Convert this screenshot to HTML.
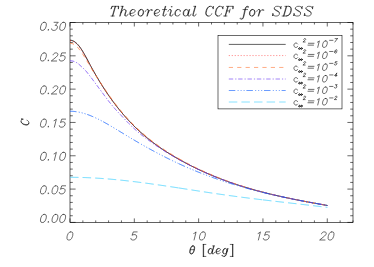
<!DOCTYPE html>
<html><head><meta charset="utf-8"><title>Theoretical CCF for SDSS</title>
<style>html,body{margin:0;padding:0;background:#fff;font-family:"Liberation Sans",sans-serif;}svg{display:block}</style>
</head><body>
<svg width="374" height="267" viewBox="0 0 374 267"><g fill="none" stroke="#000" stroke-width="0.62">
<rect x="70.00" y="22.50" width="283.00" height="199.90"/>
<path d="M70.00 222.40V218.40 M70.00 22.50V26.50 M82.86 222.40V220.40 M82.86 22.50V24.50 M95.73 222.40V220.40 M95.73 22.50V24.50 M108.59 222.40V220.40 M108.59 22.50V24.50 M121.45 222.40V220.40 M121.45 22.50V24.50 M134.32 222.40V218.40 M134.32 22.50V26.50 M147.18 222.40V220.40 M147.18 22.50V24.50 M160.05 222.40V220.40 M160.05 22.50V24.50 M172.91 222.40V220.40 M172.91 22.50V24.50 M185.77 222.40V220.40 M185.77 22.50V24.50 M198.64 222.40V218.40 M198.64 22.50V26.50 M211.50 222.40V220.40 M211.50 22.50V24.50 M224.36 222.40V220.40 M224.36 22.50V24.50 M237.23 222.40V220.40 M237.23 22.50V24.50 M250.09 222.40V220.40 M250.09 22.50V24.50 M262.95 222.40V218.40 M262.95 22.50V26.50 M275.82 222.40V220.40 M275.82 22.50V24.50 M288.68 222.40V220.40 M288.68 22.50V24.50 M301.55 222.40V220.40 M301.55 22.50V24.50 M314.41 222.40V220.40 M314.41 22.50V24.50 M327.27 222.40V218.40 M327.27 22.50V26.50 M340.14 222.40V220.40 M340.14 22.50V24.50 M353.00 222.40V220.40 M353.00 22.50V24.50 M70.00 222.40H75.60 M353.00 222.40H347.40 M70.00 215.74H72.80 M353.00 215.74H350.20 M70.00 209.07H72.80 M353.00 209.07H350.20 M70.00 202.41H72.80 M353.00 202.41H350.20 M70.00 195.75H72.80 M353.00 195.75H350.20 M70.00 189.08H75.60 M353.00 189.08H347.40 M70.00 182.42H72.80 M353.00 182.42H350.20 M70.00 175.76H72.80 M353.00 175.76H350.20 M70.00 169.09H72.80 M353.00 169.09H350.20 M70.00 162.43H72.80 M353.00 162.43H350.20 M70.00 155.77H75.60 M353.00 155.77H347.40 M70.00 149.10H72.80 M353.00 149.10H350.20 M70.00 142.44H72.80 M353.00 142.44H350.20 M70.00 135.78H72.80 M353.00 135.78H350.20 M70.00 129.11H72.80 M353.00 129.11H350.20 M70.00 122.45H75.60 M353.00 122.45H347.40 M70.00 115.79H72.80 M353.00 115.79H350.20 M70.00 109.12H72.80 M353.00 109.12H350.20 M70.00 102.46H72.80 M353.00 102.46H350.20 M70.00 95.80H72.80 M353.00 95.80H350.20 M70.00 89.13H75.60 M353.00 89.13H347.40 M70.00 82.47H72.80 M353.00 82.47H350.20 M70.00 75.81H72.80 M353.00 75.81H350.20 M70.00 69.14H72.80 M353.00 69.14H350.20 M70.00 62.48H72.80 M353.00 62.48H350.20 M70.00 55.82H75.60 M353.00 55.82H347.40 M70.00 49.15H72.80 M353.00 49.15H350.20 M70.00 42.49H72.80 M353.00 42.49H350.20 M70.00 35.83H72.80 M353.00 35.83H350.20 M70.00 29.16H72.80 M353.00 29.16H350.20 M70.00 22.50H75.60 M353.00 22.50H347.40" stroke-width="0.6"/>
</g>
<g fill="none" stroke-linejoin="round">
<path d="M70.00 40.22 L70.50 40.24 L71.00 40.29 L71.50 40.39 L72.00 40.51 L72.50 40.68 L73.00 40.88 L73.50 41.12 L74.00 41.39 L74.50 41.70 L75.00 42.04 L75.50 42.42 L76.00 42.83 L76.50 43.27 L77.00 43.75 L77.50 44.26 L78.00 44.80 L78.50 45.37 L79.00 45.98 L79.50 46.61 L80.00 47.28 L80.50 47.98 L81.00 48.70 L81.50 49.45 L82.00 50.23 L82.50 51.03 L83.00 51.85 L83.50 52.69 L84.00 53.55 L84.50 54.43 L85.00 55.32 L85.50 56.22 L86.00 57.14 L86.50 58.07 L87.00 59.00 L87.50 59.94 L88.00 60.88 L88.50 61.82 L89.00 62.77 L89.50 63.71 L90.00 64.65 L90.50 65.58 L91.00 66.51 L91.50 67.43 L92.00 68.34 L92.50 69.25 L93.00 70.15 L93.50 71.04 L94.00 71.93 L94.50 72.81 L95.00 73.69 L95.50 74.56 L96.00 75.42 L96.50 76.28 L97.00 77.14 L97.50 77.98 L98.00 78.82 L98.50 79.66 L99.00 80.49 L99.50 81.31 L100.00 82.13 L100.50 82.94 L101.00 83.75 L101.50 84.55 L102.00 85.34 L102.50 86.13 L103.00 86.92 L103.50 87.70 L104.00 88.47 L104.50 89.24 L105.00 90.00 L105.50 90.76 L106.00 91.51 L106.50 92.25 L107.00 93.00 L107.50 93.73 L108.00 94.46 L108.50 95.19 L109.00 95.91 L109.50 96.62 L110.00 97.33 L110.50 98.04 L111.00 98.74 L111.50 99.43 L112.00 100.12 L112.50 100.81 L113.00 101.49 L113.50 102.16 L114.00 102.83 L114.50 103.50 L115.00 104.16 L115.50 104.81 L116.00 105.47 L116.50 106.11 L117.00 106.75 L117.50 107.39 L118.00 108.02 L118.50 108.65 L119.00 109.27 L119.50 109.89 L120.00 110.51 L120.50 111.12 L121.00 111.72 L121.50 112.32 L122.00 112.92 L122.50 113.51 L123.00 114.10 L123.50 114.68 L124.00 115.26 L124.50 115.84 L125.00 116.41 L125.50 116.97 L126.00 117.54 L126.50 118.10 L127.00 118.65 L127.50 119.20 L128.00 119.75 L128.50 120.29 L129.00 120.82 L129.50 121.36 L130.00 121.89 L130.50 122.41 L131.00 122.94 L131.50 123.46 L132.00 123.97 L132.50 124.48 L133.00 124.99 L133.50 125.49 L134.00 125.99 L134.50 126.49 L135.00 126.98 L135.50 127.47 L136.00 127.95 L136.50 128.43 L137.00 128.91 L137.50 129.38 L138.00 129.86 L138.50 130.32 L139.00 130.79 L139.50 131.25 L140.00 131.70 L140.50 132.16 L141.00 132.61 L141.50 133.06 L142.00 133.50 L142.50 133.94 L143.00 134.38 L143.50 134.81 L144.00 135.24 L144.50 135.67 L145.00 136.10 L145.50 136.52 L146.00 136.94 L146.50 137.35 L147.00 137.77 L147.50 138.18 L148.00 138.58 L148.50 138.99 L149.00 139.39 L149.50 139.79 L150.00 140.18 L150.50 140.58 L151.00 140.97 L151.50 141.36 L152.00 141.74 L152.50 142.12 L153.00 142.50 L153.50 142.88 L154.00 143.25 L154.50 143.63 L155.00 144.00 L155.50 144.36 L156.00 144.73 L156.50 145.09 L157.00 145.45 L157.50 145.81 L158.00 146.16 L158.50 146.51 L159.00 146.86 L159.50 147.21 L160.00 147.56 L160.50 147.90 L161.00 148.24 L161.50 148.58 L162.00 148.92 L162.50 149.25 L163.00 149.59 L163.50 149.92 L164.00 150.25 L164.50 150.58 L165.00 150.90 L165.50 151.22 L166.00 151.55 L166.50 151.87 L167.00 152.18 L167.50 152.50 L168.00 152.81 L168.50 153.13 L169.00 153.44 L169.50 153.75 L170.00 154.05 L170.50 154.36 L171.00 154.66 L171.50 154.97 L172.00 155.27 L172.50 155.57 L173.00 155.86 L173.50 156.16 L174.00 156.46 L174.50 156.75 L175.00 157.04 L175.50 157.33 L176.00 157.62 L176.50 157.91 L177.00 158.20 L177.50 158.49 L178.00 158.77 L178.50 159.05 L179.00 159.34 L179.50 159.62 L180.00 159.90 L180.50 160.18 L181.00 160.45 L181.50 160.73 L182.00 161.01 L182.50 161.28 L183.00 161.55 L183.50 161.82 L184.00 162.09 L184.50 162.36 L185.00 162.63 L185.50 162.90 L186.00 163.16 L186.50 163.43 L187.00 163.69 L187.50 163.95 L188.00 164.21 L188.50 164.47 L189.00 164.73 L189.50 164.98 L190.00 165.24 L190.50 165.50 L191.00 165.75 L191.50 166.00 L192.00 166.25 L192.50 166.50 L193.00 166.75 L193.50 167.00 L194.00 167.25 L194.50 167.49 L195.00 167.74 L195.50 167.98 L196.00 168.22 L196.50 168.46 L197.00 168.70 L197.50 168.94 L198.00 169.18 L198.50 169.42 L199.00 169.65 L199.50 169.89 L200.00 170.12 L200.50 170.35 L201.00 170.58 L201.50 170.82 L202.00 171.04 L202.50 171.27 L203.00 171.50 L203.50 171.73 L204.00 171.95 L204.50 172.17 L205.00 172.40 L205.50 172.62 L206.00 172.84 L206.50 173.06 L207.00 173.28 L207.50 173.50 L208.00 173.71 L208.50 173.93 L209.00 174.14 L209.50 174.36 L210.00 174.57 L210.50 174.78 L211.00 174.99 L211.50 175.20 L212.00 175.41 L212.50 175.62 L213.00 175.83 L213.50 176.03 L214.00 176.24 L214.50 176.44 L215.00 176.64 L215.50 176.85 L216.00 177.05 L216.50 177.25 L217.00 177.45 L217.50 177.64 L218.00 177.84 L218.50 178.04 L219.00 178.23 L219.50 178.43 L220.00 178.62 L220.50 178.81 L221.00 179.00 L221.50 179.20 L222.00 179.39 L222.50 179.57 L223.00 179.76 L223.50 179.95 L224.00 180.14 L224.50 180.32 L225.00 180.51 L225.50 180.69 L226.00 180.87 L226.50 181.05 L227.00 181.24 L227.50 181.42 L228.00 181.59 L228.50 181.77 L229.00 181.95 L229.50 182.13 L230.00 182.30 L230.50 182.48 L231.00 182.65 L231.50 182.83 L232.00 183.00 L232.50 183.17 L233.00 183.34 L233.50 183.51 L234.00 183.68 L234.50 183.85 L235.00 184.02 L235.50 184.18 L236.00 184.35 L236.50 184.52 L237.00 184.68 L237.50 184.84 L238.00 185.01 L238.50 185.17 L239.00 185.33 L239.50 185.49 L240.00 185.65 L240.50 185.81 L241.00 185.97 L241.50 186.13 L242.00 186.28 L242.50 186.44 L243.00 186.59 L243.50 186.75 L244.00 186.90 L244.50 187.06 L245.00 187.21 L245.50 187.36 L246.00 187.51 L246.50 187.66 L247.00 187.81 L247.50 187.96 L248.00 188.11 L248.50 188.26 L249.00 188.40 L249.50 188.55 L250.00 188.69 L250.50 188.84 L251.00 188.98 L251.50 189.13 L252.00 189.27 L252.50 189.41 L253.00 189.55 L253.50 189.69 L254.00 189.83 L254.50 189.97 L255.00 190.11 L255.50 190.25 L256.00 190.39 L256.50 190.53 L257.00 190.66 L257.50 190.80 L258.00 190.93 L258.50 191.07 L259.00 191.20 L259.50 191.33 L260.00 191.47 L260.50 191.60 L261.00 191.73 L261.50 191.86 L262.00 191.99 L262.50 192.12 L263.00 192.25 L263.50 192.38 L264.00 192.51 L264.50 192.63 L265.00 192.76 L265.50 192.89 L266.00 193.01 L266.50 193.14 L267.00 193.26 L267.50 193.39 L268.00 193.51 L268.50 193.63 L269.00 193.76 L269.50 193.88 L270.00 194.00 L270.50 194.12 L271.00 194.24 L271.50 194.36 L272.00 194.48 L272.50 194.60 L273.00 194.72 L273.50 194.83 L274.00 194.95 L274.50 195.07 L275.00 195.18 L275.50 195.30 L276.00 195.42 L276.50 195.53 L277.00 195.64 L277.50 195.76 L278.00 195.87 L278.50 195.99 L279.00 196.10 L279.50 196.21 L280.00 196.32 L280.50 196.43 L281.00 196.54 L281.50 196.65 L282.00 196.76 L282.50 196.87 L283.00 196.98 L283.50 197.09 L284.00 197.20 L284.50 197.31 L285.00 197.41 L285.50 197.52 L286.00 197.63 L286.50 197.73 L287.00 197.84 L287.50 197.95 L288.00 198.05 L288.50 198.16 L289.00 198.26 L289.50 198.36 L290.00 198.47 L290.50 198.57 L291.00 198.67 L291.50 198.78 L292.00 198.88 L292.50 198.98 L293.00 199.08 L293.50 199.18 L294.00 199.28 L294.50 199.39 L295.00 199.49 L295.50 199.59 L296.00 199.68 L296.50 199.78 L297.00 199.88 L297.50 199.98 L298.00 200.08 L298.50 200.18 L299.00 200.28 L299.50 200.37 L300.00 200.47 L300.50 200.57 L301.00 200.66 L301.50 200.76 L302.00 200.86 L302.50 200.95 L303.00 201.05 L303.50 201.14 L304.00 201.24 L304.50 201.33 L305.00 201.43 L305.50 201.52 L306.00 201.61 L306.50 201.71 L307.00 201.80 L307.50 201.90 L308.00 201.99 L308.50 202.08 L309.00 202.17 L309.50 202.27 L310.00 202.36 L310.50 202.45 L311.00 202.54 L311.50 202.63 L312.00 202.73 L312.50 202.82 L313.00 202.91 L313.50 203.00 L314.00 203.09 L314.50 203.18 L315.00 203.27 L315.50 203.36 L316.00 203.45 L316.50 203.54 L317.00 203.63 L317.50 203.72 L318.00 203.81 L318.50 203.90 L319.00 203.99 L319.50 204.08 L320.00 204.17 L320.50 204.26 L321.00 204.34 L321.50 204.43 L322.00 204.52 L322.50 204.61 L323.00 204.70 L323.50 204.79 L324.00 204.87 L324.50 204.96 L325.00 205.05 L325.50 205.14 L326.00 205.22 L326.50 205.31 L327.00 205.40 L327.40 205.47" stroke="#000" stroke-width="0.90"/>
<path d="M70.00 40.72 L70.50 40.73 L71.00 40.79 L71.50 40.88 L72.00 41.01 L72.50 41.17 L73.00 41.37 L73.50 41.60 L74.00 41.87 L74.50 42.18 L75.00 42.52 L75.50 42.89 L76.00 43.30 L76.50 43.74 L77.00 44.22 L77.50 44.72 L78.00 45.26 L78.50 45.83 L79.00 46.44 L79.50 47.07 L80.00 47.73 L80.50 48.43 L81.00 49.15 L81.50 49.90 L82.00 50.67 L82.50 51.47 L83.00 52.28 L83.50 53.12 L84.00 53.98 L84.50 54.86 L85.00 55.74 L85.50 56.65 L86.00 57.56 L86.50 58.48 L87.00 59.42 L87.50 60.35 L88.00 61.29 L88.50 62.23 L89.00 63.17 L89.50 64.11 L90.00 65.05 L90.50 65.98 L91.00 66.90 L91.50 67.82 L92.00 68.73 L92.50 69.63 L93.00 70.53 L93.50 71.42 L94.00 72.31 L94.50 73.18 L95.00 74.06 L95.50 74.92 L96.00 75.79 L96.50 76.64 L97.00 77.49 L97.50 78.33 L98.00 79.17 L98.50 80.00 L99.00 80.83 L99.50 81.65 L100.00 82.46 L100.50 83.27 L101.00 84.07 L101.50 84.87 L102.00 85.66 L102.50 86.45 L103.00 87.23 L103.50 88.00 L104.00 88.77 L104.50 89.53 L105.00 90.29 L105.50 91.05 L106.00 91.79 L106.50 92.54 L107.00 93.27 L107.50 94.01 L108.00 94.73 L108.50 95.45 L109.00 96.17 L109.50 96.88 L110.00 97.59 L110.50 98.29 L111.00 98.99 L111.50 99.68 L112.00 100.36 L112.50 101.05 L113.00 101.72 L113.50 102.40 L114.00 103.06 L114.50 103.73 L115.00 104.38 L115.50 105.04 L116.00 105.68 L116.50 106.33 L117.00 106.97 L117.50 107.60 L118.00 108.23 L118.50 108.86 L119.00 109.48 L119.50 110.10 L120.00 110.71 L120.50 111.32 L121.00 111.92 L121.50 112.52 L122.00 113.11 L122.50 113.70 L123.00 114.29 L123.50 114.87 L124.00 115.45 L124.50 116.02 L125.00 116.59 L125.50 117.15 L126.00 117.71 L126.50 118.27 L127.00 118.82 L127.50 119.37 L128.00 119.91 L128.50 120.45 L129.00 120.99 L129.50 121.52 L130.00 122.05 L130.50 122.57 L131.00 123.09 L131.50 123.61 L132.00 124.12 L132.50 124.63 L133.00 125.14 L133.50 125.64 L134.00 126.14 L134.50 126.63 L135.00 127.12 L135.50 127.61 L136.00 128.09 L136.50 128.57 L137.00 129.05 L137.50 129.52 L138.00 129.99 L138.50 130.45 L139.00 130.92 L139.50 131.37 L140.00 131.83 L140.50 132.28 L141.00 132.73 L141.50 133.18 L142.00 133.62 L142.50 134.06 L143.00 134.49 L143.50 134.93 L144.00 135.36 L144.50 135.78 L145.00 136.20 L145.50 136.63 L146.00 137.04 L146.50 137.46 L147.00 137.87 L147.50 138.28 L148.00 138.68 L148.50 139.08 L149.00 139.48 L149.50 139.88 L150.00 140.28 L150.50 140.67 L151.00 141.06 L151.50 141.44 L152.00 141.83 L152.50 142.21 L153.00 142.58 L153.50 142.96 L154.00 143.33 L154.50 143.70 L155.00 144.07 L155.50 144.44 L156.00 144.80 L156.50 145.16 L157.00 145.52 L157.50 145.87 L158.00 146.23 L158.50 146.58 L159.00 146.93 L159.50 147.27 L160.00 147.62 L160.50 147.96 L161.00 148.30 L161.50 148.64 L162.00 148.98 L162.50 149.31 L163.00 149.64 L163.50 149.97 L164.00 150.30 L164.50 150.62 L165.00 150.95 L165.50 151.27 L166.00 151.59 L166.50 151.91 L167.00 152.23 L167.50 152.54 L168.00 152.85 L168.50 153.16 L169.00 153.47 L169.50 153.78 L170.00 154.09 L170.50 154.39 L171.00 154.70 L171.50 155.00 L172.00 155.30 L172.50 155.60 L173.00 155.89 L173.50 156.19 L174.00 156.48 L174.50 156.78 L175.00 157.07 L175.50 157.36 L176.00 157.65 L176.50 157.94 L177.00 158.22 L177.50 158.51 L178.00 158.79 L178.50 159.07 L179.00 159.36 M179.00 159.36 L179.50 159.64 L180.00 159.91 L180.50 160.19 L181.00 160.47 L181.50 160.74 L182.00 161.02 L182.50 161.29 L183.00 161.56 L183.50 161.83 L184.00 162.10 L184.50 162.37 L185.00 162.64 L185.50 162.90 L186.00 163.17 L186.50 163.43 L187.00 163.70 L187.50 163.96 L188.00 164.22 L188.50 164.48 L189.00 164.73 L189.50 164.99 L190.00 165.25 L190.50 165.50 L191.00 165.75 L191.50 166.00 L192.00 166.26 L192.50 166.51 L193.00 166.75 L193.50 167.00 L194.00 167.25 L194.50 167.49 L195.00 167.74 L195.50 167.98 L196.00 168.22 L196.50 168.46 L197.00 168.70 L197.50 168.94 L198.00 169.18 L198.50 169.42 L199.00 169.65 L199.50 169.89 L200.00 170.12 L200.50 170.35 L201.00 170.58 L201.50 170.82 L202.00 171.04 L202.50 171.27 L203.00 171.50 L203.50 171.73 L204.00 171.95 L204.50 172.17 L205.00 172.40 L205.50 172.62 L206.00 172.84 L206.50 173.06 L207.00 173.28 L207.50 173.50 L208.00 173.71 L208.50 173.93 L209.00 174.14 L209.50 174.36 L210.00 174.57 L210.50 174.78 L211.00 174.99 L211.50 175.20 L212.00 175.41 L212.50 175.62 L213.00 175.83 L213.50 176.03 L214.00 176.24 L214.50 176.44 L215.00 176.64 L215.50 176.85 L216.00 177.05 L216.50 177.25 L217.00 177.45 L217.50 177.64 L218.00 177.84 L218.50 178.04 L219.00 178.23 L219.50 178.43 L220.00 178.62 L220.50 178.81 L221.00 179.00 L221.50 179.20 L222.00 179.39 L222.50 179.57 L223.00 179.76 L223.50 179.95 L224.00 180.14 L224.50 180.32 L225.00 180.51 L225.50 180.69 L226.00 180.87 L226.50 181.05 L227.00 181.24 L227.50 181.42 L228.00 181.59 L228.50 181.77 L229.00 181.95 L229.50 182.13 L230.00 182.30 L230.50 182.48 L231.00 182.65 L231.50 182.83 L232.00 183.00 L232.50 183.17 L233.00 183.34 L233.50 183.51 L234.00 183.68 L234.50 183.85 L235.00 184.02 L235.50 184.18 L236.00 184.35 L236.50 184.52 L237.00 184.68 L237.50 184.84 L238.00 185.01 L238.50 185.17 L239.00 185.33 L239.50 185.49 L240.00 185.65 L240.50 185.81 L241.00 185.97 L241.50 186.13 L242.00 186.28 L242.50 186.44 L243.00 186.59 L243.50 186.75 L244.00 186.90 L244.50 187.06 L245.00 187.21 L245.50 187.36 L246.00 187.51 L246.50 187.66 L247.00 187.81 L247.50 187.96 L248.00 188.11 L248.50 188.26 L249.00 188.40 L249.50 188.55 L250.00 188.69 L250.50 188.84 L251.00 188.98 L251.50 189.13 L252.00 189.27 L252.50 189.41 L253.00 189.55 L253.50 189.69 L254.00 189.83 L254.50 189.97 L255.00 190.11 L255.50 190.25 L256.00 190.39 L256.50 190.53 L257.00 190.66 L257.50 190.80 L258.00 190.93 L258.50 191.07 L259.00 191.20 L259.50 191.33 L260.00 191.47 L260.50 191.60 L261.00 191.73 L261.50 191.86 L262.00 191.99 L262.50 192.12 L263.00 192.25 M263.00 192.25 L263.50 192.38 L264.00 192.51 L264.50 192.63 L265.00 192.76 L265.50 192.89 L266.00 193.01 L266.50 193.14 L267.00 193.26 L267.50 193.39 L268.00 193.51 L268.50 193.63 L269.00 193.76 L269.50 193.88 L270.00 194.00 L270.50 194.12 L271.00 194.24 L271.50 194.36 L272.00 194.48 L272.50 194.60 L273.00 194.72 L273.50 194.83 L274.00 194.95 L274.50 195.07 L275.00 195.18 L275.50 195.30 L276.00 195.42 L276.50 195.53 L277.00 195.64 L277.50 195.76 L278.00 195.87 L278.50 195.99 L279.00 196.10 L279.50 196.21 L280.00 196.32 L280.50 196.43 L281.00 196.54 L281.50 196.65 L282.00 196.76 L282.50 196.87 L283.00 196.98 L283.50 197.09 L284.00 197.20 L284.50 197.31 L285.00 197.41 L285.50 197.52 L286.00 197.63 L286.50 197.73 L287.00 197.84 L287.50 197.95 L288.00 198.05 L288.50 198.16 L289.00 198.26 L289.50 198.36 L290.00 198.47 L290.50 198.57 L291.00 198.67 L291.50 198.78 L292.00 198.88 L292.50 198.98 L293.00 199.08 L293.50 199.18 L294.00 199.28 L294.50 199.39 L295.00 199.49 L295.50 199.59 L296.00 199.68 L296.50 199.78 L297.00 199.88 L297.50 199.98 L298.00 200.08 L298.50 200.18 L299.00 200.28 L299.50 200.37 L300.00 200.47 L300.50 200.57 L301.00 200.66 L301.50 200.76 L302.00 200.86 L302.50 200.95 L303.00 201.05 L303.50 201.14 L304.00 201.24 L304.50 201.33 L305.00 201.43 L305.50 201.52 L306.00 201.61 L306.50 201.71 L307.00 201.80 L307.50 201.90 L308.00 201.99 L308.50 202.08 L309.00 202.17 L309.50 202.27 L310.00 202.36 L310.50 202.45 L311.00 202.54 L311.50 202.63 L312.00 202.73 L312.50 202.82 L313.00 202.91 L313.50 203.00 L314.00 203.09 L314.50 203.18 L315.00 203.27 L315.50 203.36 L316.00 203.45 L316.50 203.54 L317.00 203.63 L317.50 203.72 L318.00 203.81 L318.50 203.90 L319.00 203.99 L319.50 204.08 L320.00 204.17 L320.50 204.26 L321.00 204.34 L321.50 204.43 L322.00 204.52 L322.50 204.61 L323.00 204.70 L323.50 204.79 L324.00 204.87 L324.50 204.96 L325.00 205.05 L325.50 205.14 L326.00 205.22 L326.50 205.31 L327.00 205.40 L327.40 205.47" stroke="#ff2020" stroke-width="0.80" stroke-dasharray="0.95 2.02"/>
<path d="M70.00 43.22 L70.50 43.24 L71.00 43.29 L71.50 43.39 L72.00 43.51 L72.50 43.68 L73.00 43.88 L73.50 44.12 L74.00 44.39 L74.50 44.70 L75.00 45.04 L75.50 45.42 L76.00 45.83 L76.50 46.27 L77.00 46.75 L77.50 47.26 L78.00 47.80 L78.50 48.37 L79.00 48.98 L79.50 49.61 L80.00 50.25 L80.50 50.92 L81.00 51.60 L81.50 52.31 L82.00 53.03 L82.50 53.78 L83.00 54.55 L83.50 55.33 L84.00 56.13 L84.50 56.93 L85.00 57.75 L85.50 58.57 L86.00 59.39 L86.50 60.23 L87.00 61.06 L87.50 61.90 L88.00 62.75 L88.50 63.60 L89.00 64.45 L89.50 65.30 L90.00 66.15 L90.50 67.00 L91.00 67.84 L91.50 68.67 L92.00 69.51 L92.50 70.33 L93.00 71.15 L93.50 71.96 L94.00 72.77 L94.50 73.57 L95.00 74.36 L95.50 75.14 L96.00 75.92 L96.50 76.69 L97.00 77.45 L97.50 78.20 L98.00 78.95 L98.50 79.69 L99.00 80.43 L99.50 81.18 L100.00 81.93 L100.50 82.68 L101.00 83.43 L101.50 84.18 L102.00 84.92 L102.50 85.66 L103.00 86.39 L103.50 87.13 L104.00 87.86 L104.50 88.60 L105.00 89.33 L105.50 90.07 L106.00 90.81 L106.50 91.55 L107.00 92.28 L107.50 93.01 L108.00 93.73 L108.50 94.45 L109.00 95.16 L109.50 95.87 L110.00 96.57 L110.50 97.27 L111.00 97.97 L111.50 98.65 L112.00 99.34 L112.50 100.02 L113.00 100.69 L113.50 101.36 L114.00 102.03 L114.50 102.69 L115.00 103.35 L115.50 104.00 L116.00 104.65 L116.50 105.29 L117.00 105.93 L117.50 106.56 L118.00 107.19 L118.50 107.82 L119.00 108.44 L119.50 109.05 L120.00 109.67 L120.50 110.27 L121.00 110.88 L121.50 111.48 L122.00 112.07 L122.50 112.66 L123.00 113.25 L123.50 113.83 L124.00 114.41 L124.50 114.99 L125.00 115.56 L125.50 116.12 L126.00 116.69 L126.50 117.25 L127.00 117.80 L127.50 118.35 L128.00 118.90 L128.50 119.44 L129.00 119.98 L129.50 120.51 L130.00 121.04 L130.50 121.57 L131.00 122.09 L131.50 122.61 L132.00 123.13 L132.50 123.64 L133.00 124.15 L133.50 124.65 L134.00 125.15 L134.50 125.65 L135.00 126.14 L135.50 126.63 L136.00 127.12 L136.50 127.60 L137.00 128.08 L137.50 128.55 L138.00 129.03 L138.50 129.49 L139.00 129.96 L139.50 130.42 L140.00 130.88 L140.50 131.34 L141.00 131.79 L141.50 132.24 L142.00 132.68 L142.50 133.12 L143.00 133.56 L143.50 134.00 L144.00 134.43 L144.50 134.86 L145.00 135.29 L145.50 135.71 L146.00 136.13 L146.50 136.55 L147.00 136.97 L147.50 137.38 L148.00 137.79 L148.50 138.19 L149.00 138.60 L149.50 139.00 L150.00 139.40 L150.50 139.79 L151.00 140.18 L151.50 140.57 L152.00 140.96 L152.50 141.34 L153.00 141.72 L153.50 142.10 L154.00 142.48 L154.50 142.85 L155.00 143.23 L155.50 143.59 L156.00 143.96 L156.50 144.32 L157.00 144.69 L157.50 145.05 L158.00 145.40 L158.50 145.76 L159.00 146.11 L159.50 146.46 L160.00 146.81 L160.50 147.15 L161.00 147.50 L161.50 147.84 L162.00 148.18 L162.50 148.52 L163.00 148.85 L163.50 149.18 L164.00 149.52 L164.50 149.85 L165.00 150.17 L165.50 150.50 L166.00 150.82 L166.50 151.15 L167.00 151.47 L167.50 151.78 L168.00 152.10 L168.50 152.42 L169.00 152.73 L169.50 153.04 L170.00 153.35 L170.50 153.66 L171.00 153.97 L171.50 154.27 L172.00 154.58 L172.50 154.88 L173.00 155.18 L173.50 155.48 L174.00 155.78 L174.50 156.08 L175.00 156.37 L175.50 156.67 L176.00 156.96 L176.50 157.25 L177.00 157.54 L177.50 157.83 L178.00 158.12 L178.50 158.41 L179.00 158.69 M179.00 158.69 L179.50 158.98 L180.00 159.26 L180.50 159.54 L181.00 159.82 L181.50 160.10 L182.00 160.38 L182.50 160.66 L183.00 160.94 L183.50 161.21 L184.00 161.48 L184.50 161.76 L185.00 162.03 L185.50 162.30 L186.00 162.57 L186.50 162.83 L187.00 163.10 L187.50 163.37 L188.00 163.63 L188.50 163.89 L189.00 164.15 L189.50 164.42 L190.00 164.67 L190.50 164.93 L191.00 165.19 L191.50 165.45 L192.00 165.70 L192.50 165.95 L193.00 166.21 L193.50 166.46 L194.00 166.71 L194.50 166.96 L195.00 167.20 L195.50 167.45 L196.00 167.70 L196.50 167.94 L197.00 168.18 L197.50 168.43 L198.00 168.67 L198.50 168.91 L199.00 169.15 L199.50 169.38 L200.00 169.62 L200.50 169.86 L201.00 170.09 L201.50 170.32 L202.00 170.56 L202.50 170.79 L203.00 171.02 L203.50 171.25 L204.00 171.48 L204.50 171.70 L205.00 171.93 L205.50 172.15 L206.00 172.38 L206.50 172.60 L207.00 172.82 L207.50 173.04 L208.00 173.26 L208.50 173.48 L209.00 173.70 L209.50 173.92 L210.00 174.13 L210.50 174.35 L211.00 174.56 L211.50 174.78 L212.00 174.99 L212.50 175.20 L213.00 175.41 L213.50 175.62 L214.00 175.83 L214.50 176.04 L215.00 176.24 L215.50 176.45 L216.00 176.65 L216.50 176.85 L217.00 177.06 L217.50 177.26 L218.00 177.46 L218.50 177.66 L219.00 177.86 L219.50 178.06 L220.00 178.25 L220.50 178.45 L221.00 178.64 L221.50 178.84 L222.00 179.03 L222.50 179.22 L223.00 179.41 L223.50 179.61 L224.00 179.80 L224.50 179.98 L225.00 180.17 L225.50 180.36 L226.00 180.54 L226.50 180.73 L227.00 180.91 L227.50 181.10 L228.00 181.28 L228.50 181.46 L229.00 181.64 L229.50 181.82 L230.00 182.00 L230.50 182.18 L231.00 182.36 L231.50 182.53 L232.00 182.71 L232.50 182.88 L233.00 183.06 L233.50 183.23 L234.00 183.40 L234.50 183.57 L235.00 183.75 L235.50 183.91 L236.00 184.08 L236.50 184.25 L237.00 184.42 L237.50 184.59 L238.00 184.75 L238.50 184.92 L239.00 185.08 L239.50 185.24 L240.00 185.41 L240.50 185.57 L241.00 185.73 L241.50 185.89 L242.00 186.05 L242.50 186.21 L243.00 186.36 L243.50 186.52 L244.00 186.68 L244.50 186.83 L245.00 186.99 L245.50 187.14 L246.00 187.30 L246.50 187.45 L247.00 187.60 L247.50 187.75 L248.00 187.90 L248.50 188.05 L249.00 188.20 L249.50 188.35 L250.00 188.49 L250.50 188.64 L251.00 188.79 L251.50 188.93 L252.00 189.08 L252.50 189.22 L253.00 189.36 L253.50 189.51 L254.00 189.65 L254.50 189.79 L255.00 189.93 L255.50 190.07 L256.00 190.21 L256.50 190.35 L257.00 190.49 L257.50 190.62 L258.00 190.76 L258.50 190.90 L259.00 191.03 L259.50 191.17 L260.00 191.30 L260.50 191.44 L261.00 191.57 L261.50 191.70 L262.00 191.83 L262.50 191.97 L263.00 192.10 M263.00 192.10 L263.50 192.23 L264.00 192.36 L264.50 192.49 L265.00 192.61 L265.50 192.74 L266.00 192.87 L266.50 193.00 L267.00 193.12 L267.50 193.25 L268.00 193.37 L268.50 193.50 L269.00 193.62 L269.50 193.75 L270.00 193.87 L270.50 193.99 L271.00 194.11 L271.50 194.24 L272.00 194.36 L272.50 194.48 L273.00 194.60 L273.50 194.72 L274.00 194.84 L274.50 194.95 L275.00 195.07 L275.50 195.19 L276.00 195.31 L276.50 195.42 L277.00 195.54 L277.50 195.65 L278.00 195.77 L278.50 195.88 L279.00 196.00 L279.50 196.11 L280.00 196.23 L280.50 196.34 L281.00 196.45 L281.50 196.56 L282.00 196.67 L282.50 196.78 L283.00 196.90 L283.50 197.01 L284.00 197.12 L284.50 197.22 L285.00 197.33 L285.50 197.44 L286.00 197.55 L286.50 197.66 L287.00 197.77 L287.50 197.87 L288.00 197.98 L288.50 198.09 L289.00 198.19 L289.50 198.30 L290.00 198.40 L290.50 198.51 L291.00 198.61 L291.50 198.71 L292.00 198.82 L292.50 198.92 L293.00 199.02 L293.50 199.13 L294.00 199.23 L294.50 199.33 L295.00 199.43 L295.50 199.53 L296.00 199.63 L296.50 199.73 L297.00 199.83 L297.50 199.93 L298.00 200.03 L298.50 200.13 L299.00 200.23 L299.50 200.33 L300.00 200.43 L300.50 200.53 L301.00 200.62 L301.50 200.72 L302.00 200.82 L302.50 200.92 L303.00 201.01 L303.50 201.11 L304.00 201.20 L304.50 201.30 L305.00 201.40 L305.50 201.49 L306.00 201.59 L306.50 201.68 L307.00 201.78 L307.50 201.87 L308.00 201.96 L308.50 202.06 L309.00 202.15 L309.50 202.24 L310.00 202.34 L310.50 202.43 L311.00 202.52 L311.50 202.62 L312.00 202.71 L312.50 202.80 L313.00 202.89 L313.50 202.98 L314.00 203.07 L314.50 203.17 L315.00 203.26 L315.50 203.35 L316.00 203.44 L316.50 203.53 L317.00 203.62 L317.50 203.71 L318.00 203.80 L318.50 203.89 L319.00 203.98 L319.50 204.07 L320.00 204.16 L320.50 204.25 L321.00 204.34 L321.50 204.43 L322.00 204.52 L322.50 204.60 L323.00 204.69 L323.50 204.78 L324.00 204.87 L324.50 204.96 L325.00 205.05 L325.50 205.13 L326.00 205.22 L326.50 205.31 L327.00 205.40 L327.40 205.47" stroke="#ff7838" stroke-width="0.80" stroke-dasharray="4.2 4.2"/>
<path d="M70.00 60.82 L70.50 60.82 L71.00 60.84 L71.50 60.89 L72.00 60.95 L72.50 61.04 L73.00 61.14 L73.50 61.27 L74.00 61.43 L74.50 61.61 L75.00 61.81 L75.50 62.03 L76.00 62.29 L76.50 62.56 L77.00 62.87 L77.50 63.20 L78.00 63.56 L78.50 63.95 L79.00 64.36 L79.50 64.81 L80.00 65.28 L80.50 65.76 L81.00 66.23 L81.50 66.69 L82.00 67.14 L82.50 67.59 L83.00 68.05 L83.50 68.51 L84.00 68.99 L84.50 69.48 L85.00 70.00 L85.50 70.53 L86.00 71.10 L86.50 71.69 L87.00 72.31 L87.50 72.94 L88.00 73.58 L88.50 74.21 L89.00 74.85 L89.50 75.49 L90.00 76.14 L90.50 76.78 L91.00 77.43 L91.50 78.09 L92.00 78.75 L92.50 79.42 L93.00 80.10 L93.50 80.79 L94.00 81.47 L94.50 82.15 L95.00 82.83 L95.50 83.51 L96.00 84.18 L96.50 84.86 L97.00 85.53 L97.50 86.21 L98.00 86.88 L98.50 87.55 L99.00 88.23 L99.50 88.90 L100.00 89.57 L100.50 90.24 L101.00 90.91 L101.50 91.59 L102.00 92.26 L102.50 92.93 L103.00 93.61 L103.50 94.28 L104.00 94.96 L104.50 95.63 L105.00 96.31 L105.50 96.98 L106.00 97.65 L106.50 98.31 L107.00 98.98 L107.50 99.63 L108.00 100.29 L108.50 100.93 L109.00 101.57 L109.50 102.21 L110.00 102.83 L110.50 103.45 L111.00 104.07 L111.50 104.67 L112.00 105.28 L112.50 105.88 L113.00 106.47 L113.50 107.07 L114.00 107.65 L114.50 108.23 L115.00 108.81 L115.50 109.38 L116.00 109.94 L116.50 110.50 L117.00 111.05 L117.50 111.60 L118.00 112.14 L118.50 112.66 L119.00 113.19 L119.50 113.71 L120.00 114.22 L120.50 114.74 L121.00 115.26 L121.50 115.79 L122.00 116.32 L122.50 116.86 L123.00 117.39 L123.50 117.93 L124.00 118.47 L124.50 119.00 L125.00 119.53 L125.50 120.06 L126.00 120.59 L126.50 121.11 L127.00 121.63 L127.50 122.14 L128.00 122.65 L128.50 123.15 L129.00 123.65 L129.50 124.14 L130.00 124.64 L130.50 125.13 L131.00 125.61 L131.50 126.09 L132.00 126.57 L132.50 127.05 L133.00 127.52 L133.50 127.98 L134.00 128.45 L134.50 128.90 L135.00 129.36 L135.50 129.81 L136.00 130.25 L136.50 130.69 L137.00 131.13 L137.50 131.56 L138.00 131.99 L138.50 132.41 L139.00 132.83 L139.50 133.25 L140.00 133.66 L140.50 134.07 L141.00 134.48 L141.50 134.88 L142.00 135.28 L142.50 135.67 L143.00 136.07 L143.50 136.46 L144.00 136.84 L144.50 137.23 L145.00 137.61 L145.50 137.98 L146.00 138.36 L146.50 138.72 L147.00 139.09 L147.50 139.45 L148.00 139.82 L148.50 140.18 L149.00 140.53 L149.50 140.89 L150.00 141.25 L150.50 141.61 L151.00 141.97 L151.50 142.33 L152.00 142.68 L152.50 143.04 L153.00 143.39 L153.50 143.74 L154.00 144.09 L154.50 144.44 L155.00 144.78 L155.50 145.13 L156.00 145.47 L156.50 145.81 L157.00 146.15 L157.50 146.49 L158.00 146.83 L158.50 147.16 L159.00 147.49 L159.50 147.83 L160.00 148.16 L160.50 148.49 L161.00 148.82 L161.50 149.14 L162.00 149.47 L162.50 149.79 L163.00 150.11 L163.50 150.43 L164.00 150.74 L164.50 151.06 L165.00 151.37 L165.50 151.69 L166.00 152.00 L166.50 152.30 L167.00 152.61 L167.50 152.92 L168.00 153.22 L168.50 153.53 L169.00 153.83 L169.50 154.13 L170.00 154.43 L170.50 154.72 L171.00 155.02 L171.50 155.31 L172.00 155.61 L172.50 155.90 L173.00 156.19 L173.50 156.48 L174.00 156.77 L174.50 157.06 L175.00 157.34 L175.50 157.63 L176.00 157.91 L176.50 158.20 L177.00 158.48 L177.50 158.76 L178.00 159.04 L178.50 159.31 L179.00 159.59 M179.00 159.59 L179.50 159.87 L180.00 160.14 L180.50 160.41 L181.00 160.69 L181.50 160.96 L182.00 161.23 L182.50 161.49 L183.00 161.76 L183.50 162.03 L184.00 162.29 L184.50 162.56 L185.00 162.82 L185.50 163.08 L186.00 163.34 L186.50 163.60 L187.00 163.86 L187.50 164.12 L188.00 164.37 L188.50 164.63 L189.00 164.88 L189.50 165.14 L190.00 165.39 L190.50 165.64 L191.00 165.89 L191.50 166.14 L192.00 166.39 L192.50 166.63 L193.00 166.88 L193.50 167.12 L194.00 167.37 L194.50 167.61 L195.00 167.85 L195.50 168.09 L196.00 168.33 L196.50 168.57 L197.00 168.81 L197.50 169.05 L198.00 169.29 L198.50 169.52 L199.00 169.75 L199.50 169.99 L200.00 170.22 L200.50 170.45 L201.00 170.68 L201.50 170.91 L202.00 171.14 L202.50 171.37 L203.00 171.59 L203.50 171.82 L204.00 172.04 L204.50 172.27 L205.00 172.49 L205.50 172.71 L206.00 172.93 L206.50 173.15 L207.00 173.37 L207.50 173.58 L208.00 173.80 L208.50 174.02 L209.00 174.23 L209.50 174.44 L210.00 174.65 L210.50 174.86 L211.00 175.07 L211.50 175.28 L212.00 175.49 L212.50 175.70 L213.00 175.90 L213.50 176.11 L214.00 176.31 L214.50 176.52 L215.00 176.72 L215.50 176.92 L216.00 177.12 L216.50 177.32 L217.00 177.52 L217.50 177.72 L218.00 177.91 L218.50 178.11 L219.00 178.30 L219.50 178.50 L220.00 178.69 L220.50 178.88 L221.00 179.07 L221.50 179.26 L222.00 179.45 L222.50 179.64 L223.00 179.83 L223.50 180.01 L224.00 180.20 L224.50 180.38 L225.00 180.57 L225.50 180.75 L226.00 180.93 L226.50 181.11 L227.00 181.29 L227.50 181.47 L228.00 181.65 L228.50 181.83 L229.00 182.01 L229.50 182.18 L230.00 182.36 L230.50 182.53 L231.00 182.71 L231.50 182.88 L232.00 183.05 L232.50 183.22 L233.00 183.39 L233.50 183.56 L234.00 183.73 L234.50 183.90 L235.00 184.07 L235.50 184.23 L236.00 184.40 L236.50 184.56 L237.00 184.73 L237.50 184.89 L238.00 185.05 L238.50 185.22 L239.00 185.38 L239.50 185.54 L240.00 185.70 L240.50 185.85 L241.00 186.01 L241.50 186.17 L242.00 186.33 L242.50 186.48 L243.00 186.64 L243.50 186.79 L244.00 186.94 L244.50 187.10 L245.00 187.25 L245.50 187.40 L246.00 187.55 L246.50 187.70 L247.00 187.85 L247.50 188.00 L248.00 188.15 L248.50 188.29 L249.00 188.44 L249.50 188.58 L250.00 188.73 L250.50 188.87 L251.00 189.02 L251.50 189.16 L252.00 189.30 L252.50 189.44 L253.00 189.59 L253.50 189.73 L254.00 189.87 L254.50 190.00 L255.00 190.14 L255.50 190.28 L256.00 190.42 L256.50 190.55 L257.00 190.69 L257.50 190.83 L258.00 190.96 L258.50 191.09 L259.00 191.23 L259.50 191.36 L260.00 191.49 L260.50 191.62 L261.00 191.76 L261.50 191.89 L262.00 192.02 L262.50 192.14 L263.00 192.27 M263.00 192.27 L263.50 192.40 L264.00 192.53 L264.50 192.66 L265.00 192.78 L265.50 192.91 L266.00 193.03 L266.50 193.16 L267.00 193.28 L267.50 193.41 L268.00 193.53 L268.50 193.65 L269.00 193.77 L269.50 193.90 L270.00 194.02 L270.50 194.14 L271.00 194.26 L271.50 194.38 L272.00 194.50 L272.50 194.61 L273.00 194.73 L273.50 194.85 L274.00 194.97 L274.50 195.08 L275.00 195.20 L275.50 195.31 L276.00 195.43 L276.50 195.54 L277.00 195.66 L277.50 195.77 L278.00 195.89 L278.50 196.00 L279.00 196.11 L279.50 196.22 L280.00 196.33 L280.50 196.45 L281.00 196.56 L281.50 196.67 L282.00 196.78 L282.50 196.88 L283.00 196.99 L283.50 197.10 L284.00 197.21 L284.50 197.32 L285.00 197.43 L285.50 197.53 L286.00 197.64 L286.50 197.74 L287.00 197.85 L287.50 197.96 L288.00 198.06 L288.50 198.16 L289.00 198.27 L289.50 198.37 L290.00 198.48 L290.50 198.58 L291.00 198.68 L291.50 198.78 L292.00 198.89 L292.50 198.99 L293.00 199.09 L293.50 199.19 L294.00 199.29 L294.50 199.39 L295.00 199.49 L295.50 199.59 L296.00 199.69 L296.50 199.79 L297.00 199.89 L297.50 199.99 L298.00 200.08 L298.50 200.18 L299.00 200.28 L299.50 200.38 L300.00 200.47 L300.50 200.57 L301.00 200.67 L301.50 200.76 L302.00 200.86 L302.50 200.96 L303.00 201.05 L303.50 201.15 L304.00 201.24 L304.50 201.34 L305.00 201.43 L305.50 201.52 L306.00 201.62 L306.50 201.71 L307.00 201.80 L307.50 201.90 L308.00 201.99 L308.50 202.08 L309.00 202.18 L309.50 202.27 L310.00 202.36 L310.50 202.45 L311.00 202.54 L311.50 202.64 L312.00 202.73 L312.50 202.82 L313.00 202.91 L313.50 203.00 L314.00 203.09 L314.50 203.18 L315.00 203.27 L315.50 203.36 L316.00 203.45 L316.50 203.54 L317.00 203.63 L317.50 203.72 L318.00 203.81 L318.50 203.90 L319.00 203.99 L319.50 204.08 L320.00 204.17 L320.50 204.26 L321.00 204.34 L321.50 204.43 L322.00 204.52 L322.50 204.61 L323.00 204.70 L323.50 204.79 L324.00 204.87 L324.50 204.96 L325.00 205.05 L325.50 205.14 L326.00 205.23 L326.50 205.31 L327.00 205.40 L327.40 205.47" stroke="#6a38f2" stroke-width="0.80" stroke-dasharray="4.4 2 1.2 1.75"/>
<path d="M70.00 111.25 L70.50 111.26 L71.00 111.26 L71.50 111.28 L72.00 111.30 L72.50 111.32 L73.00 111.35 L73.50 111.39 L74.00 111.44 L74.50 111.48 L75.00 111.54 L75.50 111.60 L76.00 111.66 L76.50 111.74 L77.00 111.81 L77.50 111.89 L78.00 111.98 L78.50 112.07 L79.00 112.17 L79.50 112.27 L80.00 112.38 L80.50 112.49 L81.00 112.61 L81.50 112.73 L82.00 112.86 L82.50 112.99 L83.00 113.12 L83.50 113.26 L84.00 113.41 L84.50 113.56 L85.00 113.71 L85.50 113.87 L86.00 114.03 L86.50 114.20 L87.00 114.37 L87.50 114.54 L88.00 114.72 L88.50 114.90 L89.00 115.09 L89.50 115.28 L90.00 115.47 L90.50 115.67 L91.00 115.87 L91.50 116.08 L92.00 116.28 L92.50 116.50 L93.00 116.71 L93.50 116.93 L94.00 117.15 L94.50 117.38 L95.00 117.60 L95.50 117.83 L96.00 118.07 L96.50 118.30 L97.00 118.54 L97.50 118.79 L98.00 119.03 L98.50 119.28 L99.00 119.53 L99.50 119.78 L100.00 120.04 L100.50 120.30 L101.00 120.56 L101.50 120.82 L102.00 121.08 L102.50 121.35 L103.00 121.62 L103.50 121.89 L104.00 122.16 L104.50 122.44 L105.00 122.72 L105.50 123.00 L106.00 123.28 L106.50 123.56 L107.00 123.84 L107.50 124.13 L108.00 124.41 L108.50 124.70 L109.00 124.99 L109.50 125.28 L110.00 125.57 L110.50 125.87 L111.00 126.16 L111.50 126.46 L112.00 126.75 L112.50 127.05 L113.00 127.35 L113.50 127.65 L114.00 127.95 L114.50 128.25 L115.00 128.55 L115.50 128.85 L116.00 129.16 L116.50 129.46 L117.00 129.76 L117.50 130.06 L118.00 130.37 L118.50 130.67 L119.00 130.98 L119.50 131.28 L120.00 131.58 L120.50 131.89 L121.00 132.19 L121.50 132.49 L122.00 132.80 L122.50 133.10 L123.00 133.40 L123.50 133.71 L124.00 134.01 L124.50 134.31 L125.00 134.62 L125.50 134.92 L126.00 135.22 L126.50 135.52 L127.00 135.82 L127.50 136.12 L128.00 136.43 L128.50 136.73 L129.00 137.03 L129.50 137.33 L130.00 137.63 L130.50 137.92 L131.00 138.22 L131.50 138.52 L132.00 138.82 L132.50 139.12 L133.00 139.41 L133.50 139.71 L134.00 140.00 L134.50 140.30 L135.00 140.59 L135.50 140.89 L136.00 141.18 L136.50 141.47 L137.00 141.76 L137.50 142.06 L138.00 142.35 L138.50 142.64 L139.00 142.93 L139.50 143.21 L140.00 143.50 L140.50 143.79 L141.00 144.08 L141.50 144.36 L142.00 144.65 L142.50 144.93 L143.00 145.22 L143.50 145.50 L144.00 145.78 L144.50 146.07 L145.00 146.35 L145.50 146.63 L146.00 146.91 L146.50 147.19 L147.00 147.47 L147.50 147.75 L148.00 148.02 L148.50 148.30 L149.00 148.58 L149.50 148.85 L150.00 149.13 L150.50 149.40 L151.00 149.67 L151.50 149.95 L152.00 150.22 L152.50 150.49 L153.00 150.76 L153.50 151.03 L154.00 151.30 L154.50 151.57 L155.00 151.83 L155.50 152.10 L156.00 152.37 L156.50 152.63 L157.00 152.90 L157.50 153.16 L158.00 153.43 L158.50 153.69 L159.00 153.95 L159.50 154.21 L160.00 154.47 L160.50 154.73 L161.00 154.99 L161.50 155.25 L162.00 155.51 L162.50 155.76 L163.00 156.02 L163.50 156.27 L164.00 156.53 L164.50 156.78 L165.00 157.03 L165.50 157.29 L166.00 157.54 L166.50 157.79 L167.00 158.04 L167.50 158.29 L168.00 158.53 L168.50 158.78 L169.00 159.03 L169.50 159.27 L170.00 159.52 L170.50 159.76 L171.00 160.01 L171.50 160.25 L172.00 160.49 L172.50 160.73 L173.00 160.97 L173.50 161.21 L174.00 161.45 L174.50 161.69 L175.00 161.93 L175.50 162.16 L176.00 162.40 L176.50 162.63 L177.00 162.87 L177.50 163.10 L178.00 163.33 L178.50 163.56 L179.00 163.79 M179.00 163.79 L179.50 164.02 L180.00 164.25 L180.50 164.48 L181.00 164.71 L181.50 164.93 L182.00 165.16 L182.50 165.38 L183.00 165.61 L183.50 165.83 L184.00 166.05 L184.50 166.27 L185.00 166.49 L185.50 166.71 L186.00 166.93 L186.50 167.15 L187.00 167.37 L187.50 167.59 L188.00 167.80 L188.50 168.02 L189.00 168.23 L189.50 168.44 L190.00 168.66 L190.50 168.87 L191.00 169.08 L191.50 169.29 L192.00 169.50 L192.50 169.71 L193.00 169.91 L193.50 170.12 L194.00 170.33 L194.50 170.53 L195.00 170.74 L195.50 170.94 L196.00 171.15 L196.50 171.35 L197.00 171.55 L197.50 171.75 L198.00 171.95 L198.50 172.15 L199.00 172.35 L199.50 172.55 L200.00 172.74 L200.50 172.94 L201.00 173.14 L201.50 173.33 L202.00 173.53 L202.50 173.72 L203.00 173.91 L203.50 174.10 L204.00 174.29 L204.50 174.49 L205.00 174.68 L205.50 174.86 L206.00 175.05 L206.50 175.24 L207.00 175.43 L207.50 175.61 L208.00 175.80 L208.50 175.98 L209.00 176.17 L209.50 176.35 L210.00 176.53 L210.50 176.72 L211.00 176.90 L211.50 177.08 L212.00 177.26 L212.50 177.44 L213.00 177.62 L213.50 177.80 L214.00 177.97 L214.50 178.15 L215.00 178.33 L215.50 178.50 L216.00 178.68 L216.50 178.85 L217.00 179.02 L217.50 179.20 L218.00 179.37 L218.50 179.54 L219.00 179.71 L219.50 179.88 L220.00 180.05 L220.50 180.22 L221.00 180.39 L221.50 180.55 L222.00 180.72 L222.50 180.89 L223.00 181.05 L223.50 181.22 L224.00 181.38 L224.50 181.54 L225.00 181.71 L225.50 181.87 L226.00 182.03 L226.50 182.19 L227.00 182.35 L227.50 182.51 L228.00 182.67 L228.50 182.83 L229.00 182.99 L229.50 183.15 L230.00 183.30 L230.50 183.46 L231.00 183.62 L231.50 183.77 L232.00 183.93 L232.50 184.08 L233.00 184.23 L233.50 184.39 L234.00 184.54 L234.50 184.69 L235.00 184.84 L235.50 184.99 L236.00 185.14 L236.50 185.29 L237.00 185.44 L237.50 185.59 L238.00 185.74 L238.50 185.88 L239.00 186.03 L239.50 186.18 L240.00 186.32 L240.50 186.47 L241.00 186.61 L241.50 186.75 L242.00 186.90 L242.50 187.04 L243.00 187.18 L243.50 187.32 L244.00 187.47 L244.50 187.61 L245.00 187.75 L245.50 187.89 L246.00 188.02 L246.50 188.16 L247.00 188.30 L247.50 188.44 L248.00 188.58 L248.50 188.71 L249.00 188.85 L249.50 188.98 L250.00 189.12 L250.50 189.25 L251.00 189.39 L251.50 189.52 L252.00 189.65 L252.50 189.79 L253.00 189.92 L253.50 190.05 L254.00 190.18 L254.50 190.31 L255.00 190.44 L255.50 190.57 L256.00 190.70 L256.50 190.83 L257.00 190.96 L257.50 191.08 L258.00 191.21 L258.50 191.34 L259.00 191.46 L259.50 191.59 L260.00 191.71 L260.50 191.84 L261.00 191.96 L261.50 192.09 L262.00 192.21 L262.50 192.33 L263.00 192.46 M263.00 192.46 L263.50 192.58 L264.00 192.70 L264.50 192.82 L265.00 192.94 L265.50 193.06 L266.00 193.18 L266.50 193.30 L267.00 193.42 L267.50 193.54 L268.00 193.66 L268.50 193.78 L269.00 193.90 L269.50 194.01 L270.00 194.13 L270.50 194.25 L271.00 194.36 L271.50 194.48 L272.00 194.59 L272.50 194.71 L273.00 194.82 L273.50 194.94 L274.00 195.05 L274.50 195.16 L275.00 195.28 L275.50 195.39 L276.00 195.50 L276.50 195.61 L277.00 195.72 L277.50 195.83 L278.00 195.95 L278.50 196.06 L279.00 196.17 L279.50 196.27 L280.00 196.38 L280.50 196.49 L281.00 196.60 L281.50 196.71 L282.00 196.82 L282.50 196.92 L283.00 197.03 L283.50 197.14 L284.00 197.24 L284.50 197.35 L285.00 197.46 L285.50 197.56 L286.00 197.67 L286.50 197.77 L287.00 197.88 L287.50 197.98 L288.00 198.08 L288.50 198.19 L289.00 198.29 L289.50 198.39 L290.00 198.49 L290.50 198.60 L291.00 198.70 L291.50 198.80 L292.00 198.90 L292.50 199.00 L293.00 199.10 L293.50 199.20 L294.00 199.30 L294.50 199.40 L295.00 199.50 L295.50 199.60 L296.00 199.70 L296.50 199.80 L297.00 199.90 L297.50 200.00 L298.00 200.09 L298.50 200.19 L299.00 200.29 L299.50 200.39 L300.00 200.48 L300.50 200.58 L301.00 200.67 L301.50 200.77 L302.00 200.87 L302.50 200.96 L303.00 201.06 L303.50 201.15 L304.00 201.25 L304.50 201.34 L305.00 201.44 L305.50 201.53 L306.00 201.62 L306.50 201.72 L307.00 201.81 L307.50 201.90 L308.00 202.00 L308.50 202.09 L309.00 202.18 L309.50 202.27 L310.00 202.37 L310.50 202.46 L311.00 202.55 L311.50 202.64 L312.00 202.73 L312.50 202.82 L313.00 202.91 L313.50 203.00 L314.00 203.09 L314.50 203.18 L315.00 203.27 L315.50 203.36 L316.00 203.45 L316.50 203.54 L317.00 203.63 L317.50 203.72 L318.00 203.81 L318.50 203.90 L319.00 203.99 L319.50 204.08 L320.00 204.16 L320.50 204.25 L321.00 204.34 L321.50 204.43 L322.00 204.51 L322.50 204.60 L323.00 204.69 L323.50 204.78 L324.00 204.86 L324.50 204.95 L325.00 205.04 L325.50 205.12 L326.00 205.21 L326.50 205.30 L327.00 205.38 L327.40 205.45" stroke="#1060ff" stroke-width="0.80" stroke-dasharray="6.5 2.3 1 2 1 2 1 1.8"/>
<path d="M70.00 177.31 L70.50 177.31 L71.00 177.31 L71.50 177.31 L72.00 177.31 L72.50 177.31 L73.00 177.32 L73.50 177.32 L74.00 177.33 L74.50 177.33 L75.00 177.34 L75.50 177.34 L76.00 177.35 L76.50 177.36 L77.00 177.36 L77.50 177.37 L78.00 177.38 L78.50 177.39 L79.00 177.40 L79.50 177.41 L80.00 177.42 L80.50 177.44 L81.00 177.45 L81.50 177.46 L82.00 177.48 L82.50 177.49 L83.00 177.51 L83.50 177.52 L84.00 177.54 L84.50 177.56 L85.00 177.57 L85.50 177.59 L86.00 177.61 L86.50 177.63 L87.00 177.65 L87.50 177.67 L88.00 177.69 L88.50 177.71 L89.00 177.73 L89.50 177.76 L90.00 177.78 L90.50 177.80 L91.00 177.83 L91.50 177.85 L92.00 177.88 L92.50 177.90 L93.00 177.93 L93.50 177.95 L94.00 177.98 L94.50 178.01 L95.00 178.04 L95.50 178.07 L96.00 178.10 L96.50 178.13 L97.00 178.16 L97.50 178.19 L98.00 178.22 L98.50 178.25 L99.00 178.28 L99.50 178.32 L100.00 178.35 L100.50 178.38 L101.00 178.42 L101.50 178.45 L102.00 178.49 L102.50 178.52 L103.00 178.56 L103.50 178.60 L104.00 178.63 L104.50 178.67 L105.00 178.71 L105.50 178.75 L106.00 178.79 L106.50 178.83 L107.00 178.87 L107.50 178.91 L108.00 178.95 L108.50 178.99 L109.00 179.03 L109.50 179.07 L110.00 179.12 L110.50 179.16 L111.00 179.20 L111.50 179.25 L112.00 179.29 L112.50 179.34 L113.00 179.38 L113.50 179.43 L114.00 179.47 L114.50 179.52 L115.00 179.57 L115.50 179.62 L116.00 179.66 L116.50 179.71 L117.00 179.76 L117.50 179.81 L118.00 179.86 L118.50 179.91 L119.00 179.96 L119.50 180.01 L120.00 180.06 L120.50 180.11 L121.00 180.16 L121.50 180.21 L122.00 180.27 L122.50 180.32 L123.00 180.37 L123.50 180.43 L124.00 180.48 L124.50 180.53 L125.00 180.59 L125.50 180.64 L126.00 180.70 L126.50 180.75 L127.00 180.81 L127.50 180.87 L128.00 180.92 L128.50 180.98 L129.00 181.04 L129.50 181.09 L130.00 181.15 L130.50 181.21 L131.00 181.27 L131.50 181.33 L132.00 181.39 L132.50 181.45 L133.00 181.51 L133.50 181.57 L134.00 181.63 L134.50 181.69 L135.00 181.75 L135.50 181.81 L136.00 181.87 L136.50 181.93 L137.00 182.00 L137.50 182.06 L138.00 182.12 L138.50 182.19 L139.00 182.25 L139.50 182.31 L140.00 182.38 L140.50 182.44 L141.00 182.50 L141.50 182.57 L142.00 182.63 L142.50 182.70 L143.00 182.77 L143.50 182.83 L144.00 182.90 L144.50 182.96 L145.00 183.03 L145.50 183.10 L146.00 183.16 L146.50 183.23 L147.00 183.30 L147.50 183.37 L148.00 183.43 L148.50 183.50 L149.00 183.57 L149.50 183.64 L150.00 183.71 L150.50 183.78 L151.00 183.85 L151.50 183.92 L152.00 183.99 L152.50 184.06 L153.00 184.13 L153.50 184.20 L154.00 184.27 L154.50 184.34 L155.00 184.41 L155.50 184.48 L156.00 184.55 L156.50 184.62 L157.00 184.69 L157.50 184.77 L158.00 184.84 L158.50 184.91 L159.00 184.98 L159.50 185.05 L160.00 185.13 L160.50 185.20 L161.00 185.27 L161.50 185.35 L162.00 185.42 L162.50 185.49 L163.00 185.57 L163.50 185.64 L164.00 185.71 L164.50 185.79 L165.00 185.86 L165.50 185.94 L166.00 186.01 L166.50 186.08 L167.00 186.16 L167.50 186.23 L168.00 186.31 L168.50 186.38 L169.00 186.46 L169.50 186.53 L170.00 186.61 L170.50 186.69 L171.00 186.76 L171.50 186.84 L172.00 186.91 L172.50 186.99 L173.00 187.06 L173.50 187.14 L174.00 187.22 L174.50 187.29 L175.00 187.37 L175.50 187.45 L176.00 187.52 L176.50 187.60 L177.00 187.67 L177.50 187.75 L178.00 187.83 L178.50 187.91 L179.00 187.98 M179.00 187.98 L179.50 188.06 L180.00 188.14 L180.50 188.21 L181.00 188.29 L181.50 188.37 L182.00 188.44 L182.50 188.52 L183.00 188.60 L183.50 188.68 L184.00 188.75 L184.50 188.83 L185.00 188.91 L185.50 188.99 L186.00 189.06 L186.50 189.14 L187.00 189.22 L187.50 189.30 L188.00 189.37 L188.50 189.45 L189.00 189.53 L189.50 189.61 L190.00 189.68 L190.50 189.76 L191.00 189.84 L191.50 189.92 L192.00 189.99 L192.50 190.07 L193.00 190.15 L193.50 190.22 L194.00 190.30 L194.50 190.38 L195.00 190.46 L195.50 190.53 L196.00 190.61 L196.50 190.69 L197.00 190.77 L197.50 190.84 L198.00 190.92 L198.50 191.00 L199.00 191.07 L199.50 191.15 L200.00 191.23 L200.50 191.31 L201.00 191.38 L201.50 191.46 L202.00 191.54 L202.50 191.61 L203.00 191.69 L203.50 191.77 L204.00 191.84 L204.50 191.92 L205.00 191.99 L205.50 192.07 L206.00 192.15 L206.50 192.22 L207.00 192.30 L207.50 192.37 L208.00 192.45 L208.50 192.53 L209.00 192.60 L209.50 192.68 L210.00 192.75 L210.50 192.83 L211.00 192.90 L211.50 192.98 L212.00 193.05 L212.50 193.13 L213.00 193.20 L213.50 193.27 L214.00 193.35 L214.50 193.42 L215.00 193.50 L215.50 193.57 L216.00 193.65 L216.50 193.72 L217.00 193.79 L217.50 193.87 L218.00 193.94 L218.50 194.01 L219.00 194.08 L219.50 194.16 L220.00 194.23 L220.50 194.30 L221.00 194.37 L221.50 194.45 L222.00 194.52 L222.50 194.59 L223.00 194.66 L223.50 194.73 L224.00 194.80 L224.50 194.87 L225.00 194.95 L225.50 195.02 L226.00 195.09 L226.50 195.16 L227.00 195.23 L227.50 195.30 L228.00 195.37 L228.50 195.43 L229.00 195.50 L229.50 195.57 L230.00 195.64 L230.50 195.71 L231.00 195.78 L231.50 195.85 L232.00 195.92 L232.50 195.98 L233.00 196.05 L233.50 196.12 L234.00 196.19 L234.50 196.25 L235.00 196.32 L235.50 196.39 L236.00 196.45 L236.50 196.52 L237.00 196.59 L237.50 196.65 L238.00 196.72 L238.50 196.79 L239.00 196.85 L239.50 196.92 L240.00 196.98 L240.50 197.05 L241.00 197.11 L241.50 197.18 L242.00 197.24 L242.50 197.31 L243.00 197.37 L243.50 197.44 L244.00 197.50 L244.50 197.57 L245.00 197.63 L245.50 197.69 L246.00 197.76 L246.50 197.82 L247.00 197.89 L247.50 197.95 L248.00 198.01 L248.50 198.08 L249.00 198.14 L249.50 198.20 L250.00 198.26 L250.50 198.33 L251.00 198.39 L251.50 198.45 L252.00 198.51 L252.50 198.58 L253.00 198.64 L253.50 198.70 L254.00 198.76 L254.50 198.82 L255.00 198.89 L255.50 198.95 L256.00 199.01 L256.50 199.07 L257.00 199.13 L257.50 199.19 L258.00 199.25 L258.50 199.31 L259.00 199.38 L259.50 199.44 L260.00 199.50 L260.50 199.56 L261.00 199.62 L261.50 199.68 L262.00 199.74 L262.50 199.80 L263.00 199.86 M263.00 199.86 L263.50 199.92 L264.00 199.98 L264.50 200.04 L265.00 200.10 L265.50 200.16 L266.00 200.22 L266.50 200.28 L267.00 200.34 L267.50 200.40 L268.00 200.45 L268.50 200.51 L269.00 200.57 L269.50 200.63 L270.00 200.69 L270.50 200.75 L271.00 200.81 L271.50 200.87 L272.00 200.93 L272.50 200.99 L273.00 201.04 L273.50 201.10 L274.00 201.16 L274.50 201.22 L275.00 201.28 L275.50 201.34 L276.00 201.39 L276.50 201.45 L277.00 201.51 L277.50 201.57 L278.00 201.63 L278.50 201.69 L279.00 201.74 L279.50 201.80 L280.00 201.86 L280.50 201.92 L281.00 201.97 L281.50 202.03 L282.00 202.09 L282.50 202.15 L283.00 202.21 L283.50 202.26 L284.00 202.32 L284.50 202.38 L285.00 202.44 L285.50 202.49 L286.00 202.55 L286.50 202.61 L287.00 202.67 L287.50 202.72 L288.00 202.78 L288.50 202.84 L289.00 202.90 L289.50 202.95 L290.00 203.01 L290.50 203.07 L291.00 203.13 L291.50 203.18 L292.00 203.24 L292.50 203.30 L293.00 203.36 L293.50 203.41 L294.00 203.47 L294.50 203.53 L295.00 203.59 L295.50 203.64 L296.00 203.70 L296.50 203.76 L297.00 203.82 L297.50 203.87 L298.00 203.93 L298.50 203.99 L299.00 204.05 L299.50 204.10 L300.00 204.16 L300.50 204.22 L301.00 204.28 L301.50 204.33 L302.00 204.39 L302.50 204.45 L303.00 204.51 L303.50 204.56 L304.00 204.62 L304.50 204.68 L305.00 204.74 L305.50 204.79 L306.00 204.85 L306.50 204.91 L307.00 204.97 L307.50 205.03 L308.00 205.08 L308.50 205.14 L309.00 205.20 L309.50 205.26 L310.00 205.32 L310.50 205.37 L311.00 205.43 L311.50 205.49 L312.00 205.55 L312.50 205.61 L313.00 205.67 L313.50 205.72 L314.00 205.78 L314.50 205.84 L315.00 205.90 L315.50 205.96 L316.00 206.02 L316.50 206.08 L317.00 206.14 L317.50 206.19 L318.00 206.25 L318.50 206.31 L319.00 206.37 L319.50 206.43 L320.00 206.49 L320.50 206.55 L321.00 206.61 L321.50 206.67 L322.00 206.73 L322.50 206.79 L323.00 206.85 L323.50 206.91 L324.00 206.97 L324.50 207.03 L325.00 207.09 L325.50 207.15 L326.00 207.21 L326.50 207.27 L327.00 207.33 L327.40 207.38" stroke="#40d0ff" stroke-width="0.80" stroke-dasharray="8.5 4.1"/>
</g>
<rect x="218.00" y="35.50" width="124.00" height="73.40" fill="#fff" stroke="#000" stroke-width="0.58"/>
<g fill="none">
<path d="M228.8 44.40H285.7" stroke="#000" stroke-width="0.62"/>
<path d="M228.8 55.55H285.7" stroke="#ff2020" stroke-width="0.62" stroke-dasharray="0.95 2.02"/>
<path d="M228.8 67.45H285.7" stroke="#ff7838" stroke-width="0.62" stroke-dasharray="4.2 4.2"/>
<path d="M228.8 79.00H285.7" stroke="#6a38f2" stroke-width="0.62" stroke-dasharray="4.4 2 1.2 1.75"/>
<path d="M228.8 90.50H285.7" stroke="#1060ff" stroke-width="0.62" stroke-dasharray="6.5 2.3 1 2 1 2 1 1.8"/>
<path d="M228.8 102.00H285.7" stroke="#40d0ff" stroke-width="0.62" stroke-dasharray="8.5 4.1"/>
</g>
<g fill="none" stroke="#000" stroke-width="0.58" stroke-linecap="round" stroke-linejoin="round">
<path d="M297.65 43.99 L297.03 43.37 L296.41 43.06 L295.48 43.06 L294.86 43.37 L294.24 43.99 L293.93 44.92 L293.93 45.54 L294.24 46.47 L294.86 47.09 L295.48 47.40 L296.41 47.40 L297.03 47.09 L297.65 46.47 M303.73 39.42 L303.77 39.26 L304.01 38.94 L304.21 38.78 L304.57 38.61 L305.22 38.61 L305.50 38.78 L305.62 38.94 L305.70 39.26 L305.62 39.58 L305.38 39.90 L304.94 40.39 L302.92 42.00 L305.18 42.00 M308.43 43.28 L314.01 43.28 M307.96 45.14 L313.54 45.14 M317.49 42.13 L318.19 41.82 L319.35 40.89 L317.73 47.40 M325.43 40.89 L324.42 41.20 L323.57 42.13 L322.87 43.68 L322.64 44.61 L322.56 46.16 L322.95 47.09 L323.80 47.40 L324.42 47.40 L325.43 47.09 L326.28 46.16 L326.98 44.61 L327.21 43.68 L327.29 42.13 L326.90 41.20 L326.05 40.89 L325.43 40.89 M329.61 40.33 L332.96 40.33 M337.37 38.61 L334.91 42.00 M335.11 38.61 L337.37 38.61"/>
<path d="M302.24 48.34 L302.14 47.97 L301.82 47.78 L301.45 47.78 L301.03 47.97 L300.80 48.15 L300.05 48.90 L299.82 49.08 L299.40 49.27 L299.03 49.27 L298.70 49.08 L298.61 48.71 L298.70 48.34 L298.98 47.97 L299.40 47.78 L299.77 47.78 L300.10 47.97 L300.24 48.15 L300.61 48.90 L300.75 49.08 L301.07 49.27 L301.45 49.27 L301.87 49.08 L302.14 48.71 L302.24 48.34" stroke-width="0.95"/>
<path d="M297.65 55.14 L297.03 54.52 L296.41 54.21 L295.48 54.21 L294.86 54.52 L294.24 55.14 L293.93 56.07 L293.93 56.69 L294.24 57.62 L294.86 58.24 L295.48 58.55 L296.41 58.55 L297.03 58.24 L297.65 57.62 M303.73 50.57 L303.77 50.41 L304.01 50.09 L304.21 49.93 L304.57 49.76 L305.22 49.76 L305.50 49.93 L305.62 50.09 L305.70 50.41 L305.62 50.73 L305.38 51.05 L304.94 51.54 L302.92 53.15 L305.18 53.15 M308.43 54.43 L314.01 54.43 M307.96 56.29 L313.54 56.29 M317.49 53.28 L318.19 52.97 L319.35 52.04 L317.73 58.55 M325.43 52.04 L324.42 52.35 L323.57 53.28 L322.87 54.83 L322.64 55.76 L322.56 57.31 L322.95 58.24 L323.80 58.55 L324.42 58.55 L325.43 58.24 L326.28 57.31 L326.98 55.76 L327.21 54.83 L327.29 53.28 L326.90 52.35 L326.05 52.04 L325.43 52.04 M329.61 51.48 L332.96 51.48 M337.09 50.25 L337.01 49.93 L336.56 49.76 L336.24 49.76 L335.72 49.93 L335.27 50.41 L334.91 51.22 L334.71 52.02 L334.71 52.67 L334.95 52.99 L335.40 53.15 L335.56 53.15 L336.08 52.99 L336.48 52.67 L336.77 52.18 L336.81 52.02 L336.77 51.54 L336.52 51.22 L336.08 51.05 L335.92 51.05 L335.40 51.22 L334.99 51.54 L334.71 52.02"/>
<path d="M302.24 59.49 L302.14 59.12 L301.82 58.93 L301.45 58.93 L301.03 59.12 L300.80 59.30 L300.05 60.05 L299.82 60.23 L299.40 60.42 L299.03 60.42 L298.70 60.23 L298.61 59.86 L298.70 59.49 L298.98 59.12 L299.40 58.93 L299.77 58.93 L300.10 59.12 L300.24 59.30 L300.61 60.05 L300.75 60.23 L301.07 60.42 L301.45 60.42 L301.87 60.23 L302.14 59.86 L302.24 59.49" stroke-width="0.95"/>
<path d="M297.65 67.04 L297.03 66.42 L296.41 66.11 L295.48 66.11 L294.86 66.42 L294.24 67.04 L293.93 67.97 L293.93 68.59 L294.24 69.52 L294.86 70.14 L295.48 70.45 L296.41 70.45 L297.03 70.14 L297.65 69.52 M303.73 62.47 L303.77 62.31 L304.01 61.99 L304.21 61.83 L304.57 61.66 L305.22 61.66 L305.50 61.83 L305.62 61.99 L305.70 62.31 L305.62 62.63 L305.38 62.95 L304.94 63.44 L302.92 65.05 L305.18 65.05 M308.43 66.33 L314.01 66.33 M307.96 68.19 L313.54 68.19 M317.49 65.18 L318.19 64.87 L319.35 63.94 L317.73 70.45 M325.43 63.94 L324.42 64.25 L323.57 65.18 L322.87 66.73 L322.64 67.66 L322.56 69.21 L322.95 70.14 L323.80 70.45 L324.42 70.45 L325.43 70.14 L326.28 69.21 L326.98 67.66 L327.21 66.73 L327.29 65.18 L326.90 64.25 L326.05 63.94 L325.43 63.94 M329.61 63.38 L332.96 63.38 M337.05 61.66 L335.44 61.66 L334.91 63.12 L335.11 62.95 L335.64 62.79 L336.12 62.79 L336.56 62.95 L336.81 63.28 L336.85 63.76 L336.77 64.08 L336.48 64.57 L336.08 64.89 L335.56 65.05 L335.07 65.05 L334.63 64.89 L334.51 64.73 L334.43 64.41"/>
<path d="M302.24 71.39 L302.14 71.02 L301.82 70.83 L301.45 70.83 L301.03 71.02 L300.80 71.20 L300.05 71.95 L299.82 72.13 L299.40 72.32 L299.03 72.32 L298.70 72.13 L298.61 71.76 L298.70 71.39 L298.98 71.02 L299.40 70.83 L299.77 70.83 L300.10 71.02 L300.24 71.20 L300.61 71.95 L300.75 72.13 L301.07 72.32 L301.45 72.32 L301.87 72.13 L302.14 71.76 L302.24 71.39" stroke-width="0.95"/>
<path d="M297.65 78.59 L297.03 77.97 L296.41 77.66 L295.48 77.66 L294.86 77.97 L294.24 78.59 L293.93 79.52 L293.93 80.14 L294.24 81.07 L294.86 81.69 L295.48 82.00 L296.41 82.00 L297.03 81.69 L297.65 81.07 M303.73 74.02 L303.77 73.86 L304.01 73.54 L304.21 73.38 L304.57 73.21 L305.22 73.21 L305.50 73.38 L305.62 73.54 L305.70 73.86 L305.62 74.18 L305.38 74.50 L304.94 74.99 L302.92 76.60 L305.18 76.60 M308.43 77.88 L314.01 77.88 M307.96 79.74 L313.54 79.74 M317.49 76.73 L318.19 76.42 L319.35 75.49 L317.73 82.00 M325.43 75.49 L324.42 75.80 L323.57 76.73 L322.87 78.28 L322.64 79.21 L322.56 80.76 L322.95 81.69 L323.80 82.00 L324.42 82.00 L325.43 81.69 L326.28 80.76 L326.98 79.21 L327.21 78.28 L327.29 76.73 L326.90 75.80 L326.05 75.49 L325.43 75.49 M329.61 74.93 L332.96 74.93 M336.73 73.21 L334.55 75.47 L336.97 75.47 M336.73 73.21 L335.88 76.60"/>
<path d="M302.24 82.94 L302.14 82.57 L301.82 82.38 L301.45 82.38 L301.03 82.57 L300.80 82.75 L300.05 83.50 L299.82 83.68 L299.40 83.87 L299.03 83.87 L298.70 83.68 L298.61 83.31 L298.70 82.94 L298.98 82.57 L299.40 82.38 L299.77 82.38 L300.10 82.57 L300.24 82.75 L300.61 83.50 L300.75 83.68 L301.07 83.87 L301.45 83.87 L301.87 83.68 L302.14 83.31 L302.24 82.94" stroke-width="0.95"/>
<path d="M297.65 90.09 L297.03 89.47 L296.41 89.16 L295.48 89.16 L294.86 89.47 L294.24 90.09 L293.93 91.02 L293.93 91.64 L294.24 92.57 L294.86 93.19 L295.48 93.50 L296.41 93.50 L297.03 93.19 L297.65 92.57 M303.73 85.52 L303.77 85.36 L304.01 85.04 L304.21 84.88 L304.57 84.71 L305.22 84.71 L305.50 84.88 L305.62 85.04 L305.70 85.36 L305.62 85.68 L305.38 86.00 L304.94 86.49 L302.92 88.10 L305.18 88.10 M308.43 89.38 L314.01 89.38 M307.96 91.24 L313.54 91.24 M317.49 88.23 L318.19 87.92 L319.35 86.99 L317.73 93.50 M325.43 86.99 L324.42 87.30 L323.57 88.23 L322.87 89.78 L322.64 90.71 L322.56 92.26 L322.95 93.19 L323.80 93.50 L324.42 93.50 L325.43 93.19 L326.28 92.26 L326.98 90.71 L327.21 89.78 L327.29 88.23 L326.90 87.30 L326.05 86.99 L325.43 86.99 M329.61 86.43 L332.96 86.43 M335.44 84.71 L337.21 84.71 L335.92 86.00 L336.40 86.00 L336.69 86.17 L336.81 86.33 L336.85 86.81 L336.77 87.13 L336.48 87.62 L336.08 87.94 L335.56 88.10 L335.07 88.10 L334.63 87.94 L334.51 87.78 L334.43 87.46"/>
<path d="M302.24 94.44 L302.14 94.07 L301.82 93.88 L301.45 93.88 L301.03 94.07 L300.80 94.25 L300.05 95.00 L299.82 95.18 L299.40 95.37 L299.03 95.37 L298.70 95.18 L298.61 94.81 L298.70 94.44 L298.98 94.07 L299.40 93.88 L299.77 93.88 L300.10 94.07 L300.24 94.25 L300.61 95.00 L300.75 95.18 L301.07 95.37 L301.45 95.37 L301.87 95.18 L302.14 94.81 L302.24 94.44" stroke-width="0.95"/>
<path d="M297.65 101.59 L297.03 100.97 L296.41 100.66 L295.48 100.66 L294.86 100.97 L294.24 101.59 L293.93 102.52 L293.93 103.14 L294.24 104.07 L294.86 104.69 L295.48 105.00 L296.41 105.00 L297.03 104.69 L297.65 104.07 M303.73 97.02 L303.77 96.86 L304.01 96.54 L304.21 96.38 L304.57 96.21 L305.22 96.21 L305.50 96.38 L305.62 96.54 L305.70 96.86 L305.62 97.18 L305.38 97.50 L304.94 97.99 L302.92 99.60 L305.18 99.60 M308.43 100.88 L314.01 100.88 M307.96 102.74 L313.54 102.74 M317.49 99.73 L318.19 99.42 L319.35 98.49 L317.73 105.00 M325.43 98.49 L324.42 98.80 L323.57 99.73 L322.87 101.28 L322.64 102.21 L322.56 103.76 L322.95 104.69 L323.80 105.00 L324.42 105.00 L325.43 104.69 L326.28 103.76 L326.98 102.21 L327.21 101.28 L327.29 99.73 L326.90 98.80 L326.05 98.49 L325.43 98.49 M329.61 97.93 L332.96 97.93 M335.07 97.02 L335.11 96.86 L335.36 96.54 L335.56 96.38 L335.92 96.21 L336.56 96.21 L336.85 96.38 L336.97 96.54 L337.05 96.86 L336.97 97.18 L336.73 97.50 L336.28 97.99 L334.27 99.60 L336.52 99.60"/>
<path d="M302.24 105.94 L302.14 105.57 L301.82 105.38 L301.45 105.38 L301.03 105.57 L300.80 105.75 L300.05 106.50 L299.82 106.68 L299.40 106.87 L299.03 106.87 L298.70 106.68 L298.61 106.31 L298.70 105.94 L298.98 105.57 L299.40 105.38 L299.77 105.38 L300.10 105.57 L300.24 105.75 L300.61 106.50 L300.75 106.68 L301.07 106.87 L301.45 106.87 L301.87 106.68 L302.14 106.31 L302.24 105.94" stroke-width="0.95"/>
<path d="M70.54 231.91 L69.29 232.30 L68.23 233.46 L67.36 235.38 L67.07 236.53 L66.98 238.46 L67.46 239.62 L68.52 240.00 L69.29 240.00 L70.54 239.62 L71.60 238.46 L72.46 236.53 L72.75 235.38 L72.85 233.46 L72.37 232.30 L71.31 231.91 L70.54 231.91"/>
<path d="M137.16 231.91 L133.31 231.91 L132.06 235.38 L132.54 235.00 L133.80 234.61 L134.95 234.61 L136.01 235.00 L136.59 235.76 L136.68 236.92 L136.49 237.69 L135.82 238.84 L134.85 239.62 L133.60 240.00 L132.45 240.00 L131.39 239.62 L131.10 239.23 L130.91 238.46"/>
<path d="M193.78 233.46 L194.65 233.07 L196.09 231.91 L194.07 240.00 M203.02 231.91 L201.77 232.30 L200.71 233.46 L199.85 235.38 L199.56 236.53 L199.46 238.46 L199.94 239.62 L201.00 240.00 L201.77 240.00 L203.02 239.62 L204.08 238.46 L204.95 236.53 L205.24 235.38 L205.33 233.46 L204.85 232.30 L203.79 231.91 L203.02 231.91"/>
<path d="M258.10 233.46 L258.97 233.07 L260.41 231.91 L258.39 240.00 M269.65 231.91 L265.80 231.91 L264.55 235.38 L265.03 235.00 L266.28 234.61 L267.44 234.61 L268.50 235.00 L269.07 235.76 L269.17 236.92 L268.98 237.69 L268.30 238.84 L267.34 239.62 L266.09 240.00 L264.93 240.00 L263.88 239.62 L263.59 239.23 L263.39 238.46"/>
<path d="M321.55 233.84 L321.65 233.46 L322.23 232.69 L322.71 232.30 L323.57 231.91 L325.11 231.91 L325.79 232.30 L326.08 232.69 L326.27 233.46 L326.08 234.22 L325.50 235.00 L324.44 236.15 L319.63 240.00 L325.02 240.00 M331.66 231.91 L330.41 232.30 L329.35 233.46 L328.48 235.38 L328.19 236.53 L328.10 238.46 L328.58 239.62 L329.64 240.00 L330.41 240.00 L331.66 239.62 L332.72 238.46 L333.58 236.53 L333.87 235.38 L333.97 233.46 L333.49 232.30 L332.43 231.91 L331.66 231.91"/>
<path d="M44.04 22.31 L42.78 22.70 L41.73 23.85 L40.86 25.78 L40.57 26.93 L40.47 28.86 L40.96 30.01 L42.02 30.40 L42.78 30.40 L44.04 30.01 L45.09 28.86 L45.96 26.93 L46.25 25.78 L46.35 23.85 L45.86 22.70 L44.81 22.31 L44.04 22.31 M48.37 29.63 L47.89 30.01 L48.17 30.40 L48.66 30.01 L48.37 29.63 M54.05 22.31 L58.28 22.31 L55.20 25.39 L56.36 25.39 L57.03 25.78 L57.32 26.16 L57.42 27.32 L57.22 28.09 L56.55 29.24 L55.59 30.01 L54.34 30.40 L53.18 30.40 L52.12 30.01 L51.83 29.63 L51.64 28.86 M63.29 22.31 L62.04 22.70 L60.98 23.85 L60.11 25.78 L59.82 26.93 L59.73 28.86 L60.21 30.01 L61.27 30.40 L62.04 30.40 L63.29 30.01 L64.35 28.86 L65.21 26.93 L65.50 25.78 L65.60 23.85 L65.12 22.70 L64.06 22.31 L63.29 22.31"/>
<path d="M44.04 52.91 L42.78 53.30 L41.73 54.45 L40.86 56.38 L40.57 57.53 L40.47 59.46 L40.96 60.62 L42.02 61.00 L42.78 61.00 L44.04 60.62 L45.09 59.46 L45.96 57.53 L46.25 56.38 L46.35 54.45 L45.86 53.30 L44.81 52.91 L44.04 52.91 M48.37 60.23 L47.89 60.62 L48.17 61.00 L48.66 60.62 L48.37 60.23 M53.18 54.84 L53.28 54.45 L53.85 53.69 L54.34 53.30 L55.20 52.91 L56.74 52.91 L57.41 53.30 L57.70 53.69 L57.90 54.45 L57.70 55.23 L57.13 55.99 L56.07 57.15 L51.26 61.00 L56.65 61.00 M65.60 52.91 L61.75 52.91 L60.50 56.38 L60.98 55.99 L62.23 55.61 L63.38 55.61 L64.44 55.99 L65.02 56.77 L65.11 57.92 L64.92 58.69 L64.25 59.84 L63.29 60.62 L62.04 61.00 L60.88 61.00 L59.82 60.62 L59.53 60.23 L59.34 59.46"/>
<path d="M44.04 85.91 L42.78 86.30 L41.73 87.45 L40.86 89.38 L40.57 90.53 L40.47 92.46 L40.96 93.61 L42.02 94.00 L42.78 94.00 L44.04 93.61 L45.09 92.46 L45.96 90.53 L46.25 89.38 L46.35 87.45 L45.86 86.30 L44.81 85.91 L44.04 85.91 M48.37 93.23 L47.89 93.61 L48.17 94.00 L48.66 93.61 L48.37 93.23 M53.18 87.84 L53.28 87.45 L53.85 86.69 L54.34 86.30 L55.20 85.91 L56.74 85.91 L57.41 86.30 L57.70 86.69 L57.90 87.45 L57.70 88.22 L57.13 89.00 L56.07 90.15 L51.26 94.00 L56.65 94.00 M63.29 85.91 L62.04 86.30 L60.98 87.45 L60.11 89.38 L59.82 90.53 L59.73 92.46 L60.21 93.61 L61.27 94.00 L62.04 94.00 L63.29 93.61 L64.35 92.46 L65.21 90.53 L65.50 89.38 L65.60 87.45 L65.12 86.30 L64.06 85.91 L63.29 85.91"/>
<path d="M44.04 119.12 L42.78 119.50 L41.73 120.66 L40.86 122.58 L40.57 123.73 L40.47 125.66 L40.96 126.81 L42.02 127.20 L42.78 127.20 L44.04 126.81 L45.09 125.66 L45.96 123.73 L46.25 122.58 L46.35 120.66 L45.86 119.50 L44.81 119.12 L44.04 119.12 M48.37 126.43 L47.89 126.81 L48.17 127.20 L48.66 126.81 L48.37 126.43 M54.05 120.66 L54.91 120.27 L56.36 119.12 L54.34 127.20 M65.60 119.12 L61.75 119.12 L60.50 122.58 L60.98 122.20 L62.23 121.81 L63.38 121.81 L64.44 122.20 L65.02 122.97 L65.11 124.12 L64.92 124.89 L64.25 126.05 L63.29 126.81 L62.04 127.20 L60.88 127.20 L59.82 126.81 L59.53 126.43 L59.34 125.66"/>
<path d="M44.04 152.31 L42.78 152.70 L41.73 153.86 L40.86 155.78 L40.57 156.94 L40.47 158.86 L40.96 160.02 L42.02 160.40 L42.78 160.40 L44.04 160.02 L45.09 158.86 L45.96 156.94 L46.25 155.78 L46.35 153.86 L45.86 152.70 L44.81 152.31 L44.04 152.31 M48.37 159.63 L47.89 160.02 L48.17 160.40 L48.66 160.02 L48.37 159.63 M54.05 153.86 L54.91 153.47 L56.36 152.31 L54.34 160.40 M63.29 152.31 L62.04 152.70 L60.98 153.86 L60.11 155.78 L59.82 156.94 L59.73 158.86 L60.21 160.02 L61.27 160.40 L62.04 160.40 L63.29 160.02 L64.35 158.86 L65.21 156.94 L65.50 155.78 L65.60 153.86 L65.12 152.70 L64.06 152.31 L63.29 152.31"/>
<path d="M44.04 185.81 L42.78 186.20 L41.73 187.36 L40.86 189.28 L40.57 190.44 L40.47 192.36 L40.96 193.52 L42.02 193.90 L42.78 193.90 L44.04 193.52 L45.09 192.36 L45.96 190.44 L46.25 189.28 L46.35 187.36 L45.86 186.20 L44.81 185.81 L44.04 185.81 M48.37 193.13 L47.89 193.52 L48.17 193.90 L48.66 193.52 L48.37 193.13 M55.59 185.81 L54.34 186.20 L53.28 187.36 L52.41 189.28 L52.12 190.44 L52.02 192.36 L52.51 193.52 L53.56 193.90 L54.34 193.90 L55.59 193.52 L56.65 192.36 L57.51 190.44 L57.80 189.28 L57.90 187.36 L57.41 186.20 L56.36 185.81 L55.59 185.81 M65.60 185.81 L61.75 185.81 L60.50 189.28 L60.98 188.90 L62.23 188.51 L63.38 188.51 L64.44 188.90 L65.02 189.66 L65.11 190.82 L64.92 191.59 L64.25 192.75 L63.29 193.52 L62.04 193.90 L60.88 193.90 L59.82 193.52 L59.53 193.13 L59.34 192.36"/>
<path d="M44.04 214.41 L42.78 214.80 L41.73 215.96 L40.86 217.88 L40.57 219.03 L40.47 220.96 L40.96 222.12 L42.02 222.50 L42.78 222.50 L44.04 222.12 L45.09 220.96 L45.96 219.03 L46.25 217.88 L46.35 215.96 L45.86 214.80 L44.81 214.41 L44.04 214.41 M48.37 221.73 L47.89 222.12 L48.17 222.50 L48.66 222.12 L48.37 221.73 M55.59 214.41 L54.34 214.80 L53.28 215.96 L52.41 217.88 L52.12 219.03 L52.02 220.96 L52.51 222.12 L53.56 222.50 L54.34 222.50 L55.59 222.12 L56.65 220.96 L57.51 219.03 L57.80 217.88 L57.90 215.96 L57.41 214.80 L56.36 214.41 L55.59 214.41 M63.29 214.41 L62.04 214.80 L60.98 215.96 L60.11 217.88 L59.82 219.03 L59.73 220.96 L60.21 222.12 L61.27 222.50 L62.04 222.50 L63.29 222.12 L64.35 220.96 L65.21 219.03 L65.50 217.88 L65.60 215.96 L65.12 214.80 L64.06 214.41 L63.29 214.41"/>
<path d="M192.75 245.93 L191.62 246.30 L190.88 247.43 L190.50 248.18 L190.12 249.30 L189.75 251.18 L189.75 252.68 L190.12 253.43 L190.88 253.80 L191.62 253.80 L192.75 253.43 L193.50 252.30 L193.88 251.55 L194.25 250.43 L194.62 248.55 L194.62 247.05 L194.25 246.30 L193.50 245.93 L192.75 245.93 M192.75 245.93 L192.00 246.30 L191.25 247.43 L190.88 248.18 L190.50 249.30 L190.12 251.18 L190.12 252.68 L190.50 253.43 L190.88 253.80 M191.62 253.80 L192.38 253.43 L193.12 252.30 L193.50 251.55 L193.88 250.43 L194.25 248.55 L194.25 247.05 L193.88 246.30 L193.50 245.93 M190.50 249.68 L193.88 249.68 M203.25 244.43 L203.25 256.43 M203.62 244.43 L203.62 256.43 M203.25 244.43 L205.88 244.43 M203.25 256.43 L205.88 256.43 M213.75 245.93 L212.25 251.18 L211.88 252.68 L211.88 253.43 L212.25 253.80 L213.38 253.80 L214.12 253.05 L214.50 252.30 M214.12 245.93 L212.62 251.18 L212.25 252.68 L212.25 253.43 L212.62 253.80 M212.25 251.18 L212.25 250.05 L211.88 248.93 L211.12 248.55 L210.38 248.55 L209.25 248.93 L208.50 250.05 L208.12 251.18 L208.12 252.30 L208.50 253.05 L208.88 253.43 L209.62 253.80 L210.38 253.80 L211.12 253.43 L211.88 252.30 L212.25 251.18 M210.38 248.55 L209.62 248.93 L208.88 250.05 L208.50 251.18 L208.50 252.68 L208.88 253.43 M212.62 245.93 L214.12 245.93 M216.38 251.93 L217.88 251.55 L219.00 251.18 L220.12 250.43 L220.50 249.68 L220.12 248.93 L219.38 248.55 L218.25 248.55 L217.12 248.93 L216.38 250.05 L216.00 251.18 L216.00 252.30 L216.38 253.05 L216.75 253.43 L217.50 253.80 L218.25 253.80 L219.38 253.43 L220.12 252.68 M218.25 248.55 L217.50 248.93 L216.75 250.05 L216.38 251.18 L216.38 252.68 L216.75 253.43 M228.00 248.55 L226.50 253.80 L226.12 254.93 L225.38 256.05 L224.25 256.43 L223.12 256.43 L222.38 256.05 L222.00 255.68 L222.00 255.30 L222.38 254.93 L222.75 255.30 L222.38 255.68 M227.62 248.55 L226.12 253.80 L225.75 254.93 L225.00 256.05 L224.25 256.43 M226.88 251.18 L226.88 250.05 L226.50 248.93 L225.75 248.55 L225.00 248.55 L223.88 248.93 L223.12 250.05 L222.75 251.18 L222.75 252.30 L223.12 253.05 L223.50 253.43 L224.25 253.80 L225.00 253.80 L225.75 253.43 L226.50 252.30 L226.88 251.18 M225.00 248.55 L224.25 248.93 L223.50 250.05 L223.12 251.18 L223.12 252.68 L223.50 253.43 M232.50 244.43 L232.50 256.43 M232.88 244.43 L232.88 256.43 M230.25 244.43 L232.88 244.43 M230.25 256.43 L232.88 256.43"/>
<g transform="translate(28.8 122.3) rotate(-90)"><path d="M2.74 -6.93 L3.10 -6.93 L3.47 -7.67 L3.10 -5.47 L3.10 -6.21 L2.74 -6.93 L2.37 -7.30 L1.64 -7.67 L0.55 -7.67 L-0.55 -7.30 L-1.28 -6.57 L-2.01 -5.47 L-2.37 -4.38 L-2.74 -2.92 L-2.74 -1.82 L-2.37 -0.73 L-2.01 -0.36 L-0.91 0.00 L0.18 0.00 L0.91 -0.36 L1.64 -1.09 L2.01 -1.82 M0.55 -7.67 L-0.18 -7.30 L-0.91 -6.57 L-1.64 -5.47 L-2.01 -4.38 L-2.37 -2.92 L-2.37 -1.82 L-2.01 -0.73 L-1.64 -0.36 L-0.91 0.00"/></g>
<path d="M115.13 6.34 L112.37 16.00 M115.59 6.34 L112.83 16.00 M112.37 6.34 L110.99 9.10 L111.91 6.34 L118.81 6.34 L118.35 9.10 L118.35 6.34 M110.99 16.00 L114.21 16.00 M122.49 6.34 L119.73 16.00 M122.95 6.34 L120.19 16.00 M121.11 12.78 L122.03 10.94 L122.95 10.02 L123.87 9.56 L124.79 9.56 L125.71 10.02 L126.17 10.48 L126.17 11.40 L125.25 14.16 L125.25 15.54 L125.71 16.00 M124.79 9.56 L125.71 10.48 L125.71 11.40 L124.79 14.16 L124.79 15.54 L125.25 16.00 L126.63 16.00 L127.55 15.08 L128.01 14.16 M121.11 6.34 L122.95 6.34 M130.31 13.70 L132.15 13.24 L133.53 12.78 L134.91 11.86 L135.37 10.94 L134.91 10.02 L133.99 9.56 L132.61 9.56 L131.23 10.02 L130.31 11.40 L129.85 12.78 L129.85 14.16 L130.31 15.08 L130.77 15.54 L131.69 16.00 L132.61 16.00 L133.99 15.54 L134.91 14.62 M132.61 9.56 L131.69 10.02 L130.77 11.40 L130.31 12.78 L130.31 14.62 L130.77 15.54 M140.89 9.56 L139.51 10.02 L138.59 11.40 L138.13 12.78 L138.13 14.16 L138.59 15.08 L139.05 15.54 L139.97 16.00 L140.89 16.00 L142.27 15.54 L143.19 14.16 L143.65 12.78 L143.65 11.40 L143.19 10.48 L142.73 10.02 L141.81 9.56 L140.89 9.56 M140.89 9.56 L139.97 10.02 L139.05 11.40 L138.59 12.78 L138.59 14.62 L139.05 15.54 M140.89 16.00 L141.81 15.54 L142.73 14.16 L143.19 12.78 L143.19 10.94 L142.73 10.02 M145.49 11.40 L145.95 10.48 L146.87 9.56 L148.25 9.56 L148.71 10.02 L148.71 10.94 L148.25 12.78 L147.33 16.00 M147.79 9.56 L148.25 10.02 L148.25 10.94 L147.79 12.78 L146.87 16.00 M148.25 12.78 L149.17 10.94 L150.09 10.02 L151.01 9.56 L151.93 9.56 L152.39 10.02 L152.39 10.48 L151.93 10.94 L151.47 10.48 L151.93 10.02 M154.69 13.70 L156.53 13.24 L157.91 12.78 L159.29 11.86 L159.75 10.94 L159.29 10.02 L158.37 9.56 L156.99 9.56 L155.61 10.02 L154.69 11.40 L154.23 12.78 L154.23 14.16 L154.69 15.08 L155.15 15.54 L156.07 16.00 L156.99 16.00 L158.37 15.54 L159.29 14.62 M156.99 9.56 L156.07 10.02 L155.15 11.40 L154.69 12.78 L154.69 14.62 L155.15 15.54 M165.27 6.34 L163.43 12.78 L162.97 14.62 L162.97 15.54 L163.43 16.00 L164.81 16.00 L165.73 15.08 L166.19 14.16 M165.73 6.34 L163.89 12.78 L163.43 14.62 L163.43 15.54 L163.89 16.00 M162.51 9.56 L166.65 9.56 M171.71 6.34 L171.25 6.80 L171.71 7.26 L172.17 6.80 L171.71 6.34 M168.03 11.40 L168.49 10.48 L169.41 9.56 L170.79 9.56 L171.25 10.02 L171.25 11.40 L170.33 14.16 L170.33 15.54 L170.79 16.00 M170.33 9.56 L170.79 10.02 L170.79 11.40 L169.87 14.16 L169.87 15.54 L170.33 16.00 L171.71 16.00 L172.63 15.08 L173.09 14.16 M179.99 10.94 L179.99 11.40 L180.45 11.40 L180.45 10.94 L179.99 10.02 L179.07 9.56 L177.69 9.56 L176.31 10.02 L175.39 11.40 L174.93 12.78 L174.93 14.16 L175.39 15.08 L175.85 15.54 L176.77 16.00 L177.69 16.00 L179.07 15.54 L179.99 14.16 M177.69 9.56 L176.77 10.02 L175.85 11.40 L175.39 12.78 L175.39 14.62 L175.85 15.54 M189.19 9.56 L188.27 12.78 L187.81 14.62 L187.81 15.54 L188.27 16.00 L189.65 16.00 L190.57 15.08 L191.03 14.16 M189.65 9.56 L188.73 12.78 L188.27 14.62 L188.27 15.54 L188.73 16.00 M188.27 12.78 L188.27 11.40 L187.81 10.02 L186.89 9.56 L185.97 9.56 L184.59 10.02 L183.67 11.40 L183.21 12.78 L183.21 14.16 L183.67 15.08 L184.13 15.54 L185.05 16.00 L185.97 16.00 L186.89 15.54 L187.81 14.16 L188.27 12.78 M185.97 9.56 L185.05 10.02 L184.13 11.40 L183.67 12.78 L183.67 14.62 L184.13 15.54 M195.17 6.34 L193.33 12.78 L192.87 14.62 L192.87 15.54 L193.33 16.00 L194.71 16.00 L195.63 15.08 L196.09 14.16 M195.63 6.34 L193.79 12.78 L193.33 14.62 L193.33 15.54 L193.79 16.00 M193.79 6.34 L195.63 6.34 M212.65 7.26 L213.11 7.26 L213.57 6.34 L213.11 9.10 L213.11 8.18 L212.65 7.26 L212.19 6.80 L211.27 6.34 L209.89 6.34 L208.51 6.80 L207.59 7.72 L206.67 9.10 L206.21 10.48 L205.75 12.32 L205.75 13.70 L206.21 15.08 L206.67 15.54 L208.05 16.00 L209.43 16.00 L210.35 15.54 L211.27 14.62 L211.73 13.70 M209.89 6.34 L208.97 6.80 L208.05 7.72 L207.13 9.10 L206.67 10.48 L206.21 12.32 L206.21 13.70 L206.67 15.08 L207.13 15.54 L208.05 16.00 M222.31 7.26 L222.77 7.26 L223.23 6.34 L222.77 9.10 L222.77 8.18 L222.31 7.26 L221.85 6.80 L220.93 6.34 L219.55 6.34 L218.17 6.80 L217.25 7.72 L216.33 9.10 L215.87 10.48 L215.41 12.32 L215.41 13.70 L215.87 15.08 L216.33 15.54 L217.71 16.00 L219.09 16.00 L220.01 15.54 L220.93 14.62 L221.39 13.70 M219.55 6.34 L218.63 6.80 L217.71 7.72 L216.79 9.10 L216.33 10.48 L215.87 12.32 L215.87 13.70 L216.33 15.08 L216.79 15.54 L217.71 16.00 M227.83 6.34 L225.07 16.00 M228.29 6.34 L225.53 16.00 M230.13 9.10 L229.21 12.78 M226.45 6.34 L233.35 6.34 L232.89 9.10 L232.89 6.34 M226.91 10.94 L229.67 10.94 M223.69 16.00 L226.91 16.00 M248.07 6.80 L247.61 7.26 L248.07 7.72 L248.53 7.26 L248.53 6.80 L248.07 6.34 L247.15 6.34 L246.23 6.80 L245.77 7.26 L245.31 8.18 L244.85 9.56 L243.47 16.00 L243.01 17.84 L242.55 18.76 M247.15 6.34 L246.23 7.26 L245.77 8.18 L245.31 10.02 L244.39 14.16 L243.93 16.00 L243.47 17.38 L243.01 18.30 L242.55 18.76 L241.63 19.22 L240.71 19.22 L240.25 18.76 L240.25 18.30 L240.71 17.84 L241.17 18.30 L240.71 18.76 M243.01 9.56 L247.61 9.56 M252.21 9.56 L250.83 10.02 L249.91 11.40 L249.45 12.78 L249.45 14.16 L249.91 15.08 L250.37 15.54 L251.29 16.00 L252.21 16.00 L253.59 15.54 L254.51 14.16 L254.97 12.78 L254.97 11.40 L254.51 10.48 L254.05 10.02 L253.13 9.56 L252.21 9.56 M252.21 9.56 L251.29 10.02 L250.37 11.40 L249.91 12.78 L249.91 14.62 L250.37 15.54 M252.21 16.00 L253.13 15.54 L254.05 14.16 L254.51 12.78 L254.51 10.94 L254.05 10.02 M256.81 11.40 L257.27 10.48 L258.19 9.56 L259.57 9.56 L260.03 10.02 L260.03 10.94 L259.57 12.78 L258.65 16.00 M259.11 9.56 L259.57 10.02 L259.57 10.94 L259.11 12.78 L258.19 16.00 M259.57 12.78 L260.49 10.94 L261.41 10.02 L262.33 9.56 L263.25 9.56 L263.71 10.02 L263.71 10.48 L263.25 10.94 L262.79 10.48 L263.25 10.02 M280.27 7.26 L280.73 7.26 L281.19 6.34 L280.73 9.10 L280.73 8.18 L280.27 7.26 L279.81 6.80 L278.43 6.34 L276.59 6.34 L275.21 6.80 L274.29 7.72 L274.29 8.64 L274.75 9.56 L275.21 10.02 L278.43 11.86 L279.35 12.78 M274.29 8.64 L275.21 9.56 L278.43 11.40 L278.89 11.86 L279.35 12.78 L279.35 14.16 L278.89 15.08 L278.43 15.54 L277.05 16.00 L275.21 16.00 L273.83 15.54 L273.37 15.08 L272.91 14.16 L272.91 13.24 L272.45 16.00 L272.91 15.08 L273.37 15.08 M286.25 6.34 L283.49 16.00 M286.71 6.34 L283.95 16.00 M284.87 6.34 L289.01 6.34 L290.39 6.80 L290.85 7.26 L291.31 8.64 L291.31 10.48 L290.85 12.32 L289.93 14.16 L289.01 15.08 L288.09 15.54 L286.25 16.00 L282.11 16.00 M289.01 6.34 L289.93 6.80 L290.39 7.26 L290.85 8.64 L290.85 10.48 L290.39 12.32 L289.47 14.16 L288.55 15.08 L287.63 15.54 L286.25 16.00 M301.43 7.26 L301.89 7.26 L302.35 6.34 L301.89 9.10 L301.89 8.18 L301.43 7.26 L300.97 6.80 L299.59 6.34 L297.75 6.34 L296.37 6.80 L295.45 7.72 L295.45 8.64 L295.91 9.56 L296.37 10.02 L299.59 11.86 L300.51 12.78 M295.45 8.64 L296.37 9.56 L299.59 11.40 L300.05 11.86 L300.51 12.78 L300.51 14.16 L300.05 15.08 L299.59 15.54 L298.21 16.00 L296.37 16.00 L294.99 15.54 L294.53 15.08 L294.07 14.16 L294.07 13.24 L293.61 16.00 L294.07 15.08 L294.53 15.08 M312.01 7.26 L312.47 7.26 L312.93 6.34 L312.47 9.10 L312.47 8.18 L312.01 7.26 L311.55 6.80 L310.17 6.34 L308.33 6.34 L306.95 6.80 L306.03 7.72 L306.03 8.64 L306.49 9.56 L306.95 10.02 L310.17 11.86 L311.09 12.78 M306.03 8.64 L306.95 9.56 L310.17 11.40 L310.63 11.86 L311.09 12.78 L311.09 14.16 L310.63 15.08 L310.17 15.54 L308.79 16.00 L306.95 16.00 L305.57 15.54 L305.11 15.08 L304.65 14.16 L304.65 13.24 L304.19 16.00 L304.65 15.08 L305.11 15.08"/>
</g></svg>
</body></html>
